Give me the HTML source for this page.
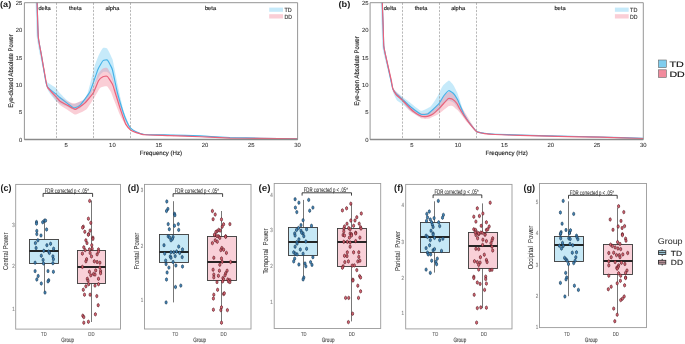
<!DOCTYPE html>
<html><head><meta charset="utf-8"><style>
html,body{margin:0;padding:0;background:#fff;width:685px;height:344px;overflow:hidden}
svg{will-change:transform}
text{font-family:"Liberation Sans", sans-serif;text-rendering:geometricPrecision}
</style></head><body>
<svg width="685" height="344" viewBox="0 0 685 344" style="display:block;font-family:'Liberation Sans', sans-serif">
<rect width="685" height="344" fill="#fff"/>
<g>
<clipPath id="ca"><rect x="24.4" y="2.7" width="273.20000000000005" height="136.8"/></clipPath>
<g clip-path="url(#ca)">
<path d="M35.40,0.00 C35.41,0.20 35.50,-0.01 35.60,2.70 C35.70,5.41 36.48,33.16 36.80,37.00 C37.12,40.84 39.30,51.99 39.90,55.00 C40.50,58.01 44.48,76.02 45.00,78.00 C45.52,79.98 46.19,81.27 47.00,82.00 C47.81,82.73 55.05,87.17 56.00,88.00 C56.95,88.83 59.22,92.42 60.00,93.30 C60.78,94.18 65.86,99.26 66.70,100.00 C67.54,100.74 70.86,103.11 71.40,103.40 C71.94,103.69 73.11,104.23 74.00,104.00 C74.89,103.77 82.57,101.18 83.60,100.30 C84.63,99.42 87.19,94.49 88.00,92.00 C88.81,89.51 93.83,68.95 94.60,66.30 C95.37,63.65 97.89,57.13 98.50,55.80 C99.11,54.47 102.25,48.61 102.90,48.10 C103.55,47.59 106.60,47.98 107.30,48.80 C108.00,49.62 111.99,57.89 112.50,59.30 C113.01,60.71 113.93,66.19 114.30,68.00 C114.67,69.81 117.05,81.80 117.50,84.00 C117.95,86.20 120.02,95.95 120.50,98.00 C120.98,100.05 123.26,109.84 124.00,112.00 C124.74,114.16 129.72,126.09 130.60,127.50 C131.48,128.91 134.97,130.72 136.00,131.20 C137.03,131.68 142.11,133.80 144.60,134.05 C147.09,134.30 165.94,134.54 170.00,134.65 C174.06,134.76 195.60,135.35 200.00,135.55 C204.40,135.75 222.85,137.13 230.00,137.35 C237.15,137.57 292.55,138.51 297.50,138.60 L297.50,139.00 C292.55,138.92 237.15,138.05 230.00,137.85 C222.85,137.65 204.40,136.43 200.00,136.25 C195.60,136.07 174.06,135.55 170.00,135.45 C165.94,135.35 147.09,135.09 144.60,134.85 C142.11,134.61 137.03,132.63 136.00,132.20 C134.97,131.77 131.41,129.97 130.60,129.00 C129.79,128.03 125.92,121.13 125.00,119.00 C124.08,116.87 118.81,102.49 118.00,100.00 C117.19,97.51 114.56,86.83 114.00,85.00 C113.44,83.17 110.79,75.95 110.30,75.00 C109.81,74.05 107.84,72.22 107.30,72.00 C106.76,71.78 103.54,71.78 103.00,72.00 C102.46,72.22 100.59,74.05 100.00,75.00 C99.41,75.95 95.75,83.39 95.00,85.00 C94.25,86.61 90.90,95.28 89.80,97.00 C88.70,98.72 81.16,107.55 80.00,108.50 C78.84,109.45 74.90,110.11 74.00,110.00 C73.10,109.89 68.73,107.48 67.70,107.00 C66.67,106.52 60.86,103.94 60.00,103.50 C59.14,103.06 56.66,101.62 56.00,101.00 C55.34,100.38 51.62,95.84 51.00,95.00 C50.38,94.16 47.97,90.60 47.60,89.50 C47.23,88.40 46.33,82.53 45.90,80.00 C45.47,77.47 42.24,58.15 41.70,55.00 C41.16,51.85 38.92,40.84 38.60,37.00 C38.28,33.16 37.50,5.41 37.40,2.70 C37.30,-0.01 37.21,0.20 37.20,0.00 Z" fill="#70caf2" fill-opacity="0.4"/>
<path d="M36.70,0.00 C36.71,0.20 36.80,-0.01 36.90,2.70 C37.00,5.41 37.79,33.16 38.10,37.00 C38.41,40.84 40.56,51.85 41.10,55.00 C41.64,58.15 45.03,77.73 45.50,80.00 C45.97,82.27 46.73,84.97 47.50,86.00 C48.27,87.03 54.52,92.86 56.00,94.00 C57.48,95.14 66.31,100.81 67.70,101.50 C69.09,102.19 73.77,103.58 75.00,103.40 C76.23,103.22 83.16,100.20 84.50,99.00 C85.84,97.80 92.31,88.83 93.30,87.00 C94.29,85.17 97.30,75.36 98.00,74.00 C98.70,72.64 102.22,68.94 102.90,68.50 C103.58,68.06 106.63,67.45 107.30,68.00 C107.97,68.55 111.44,74.68 112.00,76.00 C112.56,77.32 114.41,84.02 115.00,86.00 C115.59,87.98 119.30,100.73 120.00,103.00 C120.70,105.27 123.72,115.06 124.50,117.00 C125.28,118.94 129.73,128.39 130.60,129.50 C131.47,130.61 135.27,131.74 136.30,132.10 C137.33,132.46 142.13,134.12 144.60,134.35 C147.07,134.58 165.94,135.10 170.00,135.25 C174.06,135.40 195.60,136.26 200.00,136.45 C204.40,136.64 222.85,137.69 230.00,137.85 C237.15,138.01 292.55,138.64 297.50,138.70 L297.50,139.00 C292.55,138.95 237.15,138.49 230.00,138.35 C222.85,138.21 204.40,137.23 200.00,137.05 C195.60,136.87 174.06,136.09 170.00,135.95 C165.94,135.81 147.07,135.36 144.60,135.15 C142.13,134.94 137.33,133.43 136.30,133.10 C135.27,132.77 131.50,131.38 130.60,130.60 C129.70,129.82 124.78,123.64 124.00,122.50 C123.22,121.36 120.73,116.65 120.00,115.00 C119.27,113.35 114.66,101.69 114.00,100.00 C113.34,98.31 111.49,92.99 111.00,92.00 C110.51,91.01 107.83,86.90 107.30,86.50 C106.77,86.10 104.34,86.39 103.80,86.50 C103.26,86.61 100.65,87.27 100.00,88.00 C99.35,88.73 96.00,94.82 95.00,96.40 C94.00,97.98 87.74,108.17 86.30,109.50 C84.86,110.83 76.66,114.56 75.30,114.60 C73.94,114.64 68.82,110.70 67.70,110.00 C66.58,109.30 60.86,105.83 60.00,105.10 C59.14,104.37 56.89,101.18 56.00,100.00 C55.11,98.82 48.52,90.47 47.80,89.00 C47.08,87.53 46.64,82.49 46.20,80.00 C45.76,77.51 42.36,58.15 41.80,55.00 C41.24,51.85 38.92,40.84 38.60,37.00 C38.28,33.16 37.50,5.41 37.40,2.70 C37.30,-0.01 37.21,0.20 37.20,0.00 Z" fill="#f28598" fill-opacity="0.4"/>
<path d="M36.90,0.00 C36.91,0.20 37.00,-0.01 37.10,2.70 C37.20,5.41 37.98,33.16 38.30,37.00 C38.62,40.84 40.87,51.85 41.40,55.00 C41.93,58.15 45.05,77.65 45.50,80.00 C45.95,82.35 46.71,85.94 47.50,87.00 C48.29,88.06 55.38,93.62 56.30,94.40 C57.22,95.18 59.16,97.03 60.00,97.70 C60.84,98.37 66.78,102.90 67.70,103.60 C68.62,104.30 71.97,106.99 72.50,107.30 C73.03,107.61 74.34,107.96 74.90,107.80 C75.46,107.64 79.01,106.26 80.10,105.10 C81.19,103.94 88.51,94.57 89.80,92.00 C91.09,89.43 96.93,71.98 97.70,70.00 C98.47,68.02 99.90,65.69 100.30,65.00 C100.70,64.31 102.59,60.97 103.10,60.60 C103.61,60.23 106.77,59.68 107.30,60.00 C107.83,60.32 109.92,64.27 110.30,65.00 C110.68,65.73 111.97,67.95 112.50,70.00 C113.03,72.05 116.72,89.92 117.50,93.00 C118.28,96.08 122.44,109.95 123.10,112.00 C123.76,114.05 125.95,119.81 126.50,121.00 C127.05,122.19 129.90,127.42 130.60,128.20 C131.30,128.98 134.97,131.24 136.00,131.70 C137.03,132.16 142.11,134.20 144.60,134.45 C147.09,134.70 165.94,134.95 170.00,135.05 C174.06,135.15 195.60,135.67 200.00,135.85 C204.40,136.03 225.60,137.38 230.00,137.55 C234.40,137.72 255.05,138.11 260.00,138.20 C264.95,138.29 294.75,138.76 297.50,138.80" fill="none" stroke="#45b2e8" stroke-width="1.15" stroke-linejoin="round"/>
<path d="M36.90,0.00 C36.91,0.20 37.00,-0.01 37.10,2.70 C37.20,5.41 37.98,33.16 38.30,37.00 C38.62,40.84 40.85,51.85 41.40,55.00 C41.95,58.15 45.35,77.62 45.80,80.00 C46.25,82.38 46.73,86.15 47.50,87.40 C48.27,88.65 55.38,96.09 56.30,97.10 C57.22,98.11 59.16,100.59 60.00,101.20 C60.84,101.81 66.58,104.81 67.70,105.40 C68.82,105.99 74.07,109.45 75.30,109.30 C76.53,109.15 83.18,104.60 84.50,103.40 C85.82,102.20 92.27,94.56 93.30,92.90 C94.33,91.24 97.80,81.98 98.50,80.80 C99.20,79.62 102.25,77.12 102.90,76.80 C103.55,76.48 106.60,75.85 107.30,76.40 C108.00,76.95 111.94,83.16 112.50,84.30 C113.06,85.44 114.45,90.26 115.00,92.00 C115.55,93.74 119.33,105.95 120.00,108.00 C120.67,110.05 123.67,118.80 124.10,120.00 C124.53,121.20 125.32,123.57 125.80,124.30 C126.28,125.03 129.83,129.39 130.60,130.00 C131.37,130.61 135.27,132.25 136.30,132.60 C137.33,132.95 142.13,134.53 144.60,134.75 C147.07,134.97 165.94,135.40 170.00,135.55 C174.06,135.70 195.60,136.57 200.00,136.75 C204.40,136.93 225.60,137.93 230.00,138.05 C234.40,138.17 255.05,138.34 260.00,138.40 C264.95,138.46 294.75,138.86 297.50,138.90" fill="none" stroke="#e9627b" stroke-width="1.2" stroke-linejoin="round"/>
</g>
<line x1="56.5" y1="2.7" x2="56.5" y2="139.5" stroke="#999" stroke-width="0.7" stroke-dasharray="2.2,1.4"/>
<line x1="93.5" y1="2.7" x2="93.5" y2="139.5" stroke="#999" stroke-width="0.7" stroke-dasharray="2.2,1.4"/>
<line x1="130.5" y1="2.7" x2="130.5" y2="139.5" stroke="#999" stroke-width="0.7" stroke-dasharray="2.2,1.4"/>
<path d="M24.4,139.5 L24.4,2.7 L297.6,2.7 L297.6,139.5 Z" fill="none" stroke="#8a8a8a" stroke-width="0.9"/>
<line x1="24.4" y1="139.5" x2="297.6" y2="139.5" stroke="#8a8a8a" stroke-width="1.3"/>
<text transform="translate(44.60 9.90) scale(0.1)" font-size="57.0" text-anchor="middle" fill="#1a1a1a" stroke="#1a1a1a" stroke-width="1.50">delta</text>
<text transform="translate(75.30 9.90) scale(0.1)" font-size="57.0" text-anchor="middle" fill="#1a1a1a" stroke="#1a1a1a" stroke-width="1.50">theta</text>
<text transform="translate(112.40 9.90) scale(0.1)" font-size="57.0" text-anchor="middle" fill="#1a1a1a" stroke="#1a1a1a" stroke-width="1.50">alpha</text>
<text transform="translate(210.50 9.90) scale(0.1)" font-size="57.0" text-anchor="middle" fill="#1a1a1a" stroke="#1a1a1a" stroke-width="1.50">beta</text>
<text transform="translate(22.20 141.70) scale(0.1)" font-size="59.0" text-anchor="end" fill="#333" stroke="#333" stroke-width="0.80">0</text>
<text transform="translate(22.20 114.30) scale(0.1)" font-size="59.0" text-anchor="end" fill="#333" stroke="#333" stroke-width="0.80">5</text>
<text transform="translate(22.20 87.00) scale(0.1)" font-size="59.0" text-anchor="end" fill="#333" stroke="#333" stroke-width="0.80">10</text>
<text transform="translate(22.20 59.60) scale(0.1)" font-size="59.0" text-anchor="end" fill="#333" stroke="#333" stroke-width="0.80">15</text>
<text transform="translate(22.20 32.30) scale(0.1)" font-size="59.0" text-anchor="end" fill="#333" stroke="#333" stroke-width="0.80">20</text>
<text transform="translate(22.20 4.90) scale(0.1)" font-size="59.0" text-anchor="end" fill="#333" stroke="#333" stroke-width="0.80">25</text>
<text transform="translate(66.10 147.30) scale(0.1)" font-size="59.0" text-anchor="middle" fill="#333" stroke="#333" stroke-width="0.80">5</text>
<text transform="translate(112.40 147.30) scale(0.1)" font-size="59.0" text-anchor="middle" fill="#333" stroke="#333" stroke-width="0.80">10</text>
<text transform="translate(158.70 147.30) scale(0.1)" font-size="59.0" text-anchor="middle" fill="#333" stroke="#333" stroke-width="0.80">15</text>
<text transform="translate(205.00 147.30) scale(0.1)" font-size="59.0" text-anchor="middle" fill="#333" stroke="#333" stroke-width="0.80">20</text>
<text transform="translate(251.30 147.30) scale(0.1)" font-size="59.0" text-anchor="middle" fill="#333" stroke="#333" stroke-width="0.80">25</text>
<text transform="translate(297.60 147.30) scale(0.1)" font-size="59.0" text-anchor="middle" fill="#333" stroke="#333" stroke-width="0.80">30</text>
<text transform="translate(161.00 154.60) scale(0.1)" font-size="62.0" text-anchor="middle" fill="#262626" stroke="#262626" stroke-width="1.50" textLength="423.0" lengthAdjust="spacingAndGlyphs">Frequency (Hz)</text>
<text transform="translate(12.80 71.10) rotate(-90) scale(0.1)" font-size="66.0" text-anchor="middle" fill="#222" stroke="#222" stroke-width="1.50" textLength="735.0" lengthAdjust="spacingAndGlyphs">Eye-closed Absolute Power</text>
<rect x="269.2" y="7.6" width="13.8" height="4.2" fill="#70caf2" fill-opacity="0.4"/>
<rect x="269.2" y="14.2" width="13.8" height="4.3" fill="#f28598" fill-opacity="0.4"/>
<text transform="translate(284.40 12.00) scale(0.1)" font-size="60.0" text-anchor="start" fill="#333" stroke="#333" stroke-width="1.50" textLength="73.0" lengthAdjust="spacingAndGlyphs">TD</text>
<text transform="translate(284.40 18.50) scale(0.1)" font-size="60.0" text-anchor="start" fill="#333" stroke="#333" stroke-width="1.50" textLength="75.0" lengthAdjust="spacingAndGlyphs">DD</text>
<text transform="translate(0.00 7.20) scale(0.1)" font-size="83.0" text-anchor="start" fill="#222" font-weight="bold" textLength="112.0" lengthAdjust="spacingAndGlyphs">(a)</text>
<clipPath id="cb"><rect x="370.09999999999997" y="2.7" width="273.2" height="136.8"/></clipPath>
<g clip-path="url(#cb)">
<path d="M380.60,0.00 C380.61,0.20 380.73,0.87 380.80,2.70 C380.87,4.53 381.49,21.82 381.60,25.00 C381.71,28.18 382.12,43.80 382.30,46.00 C382.48,48.20 383.41,52.51 384.00,55.00 C384.59,57.49 389.68,77.62 390.30,80.00 C390.92,82.38 391.98,86.66 392.40,87.50 C392.82,88.34 395.30,90.84 396.00,91.50 C396.70,92.16 400.97,95.69 402.00,96.50 C403.03,97.31 408.61,101.45 410.00,102.50 C411.39,103.55 419.49,110.51 421.00,110.80 C422.51,111.09 429.55,107.19 430.60,106.40 C431.65,105.61 434.76,100.80 435.30,100.00 C435.84,99.20 437.45,96.54 438.00,95.50 C438.55,94.46 442.00,86.90 442.80,85.80 C443.60,84.70 448.13,80.57 448.90,80.50 C449.67,80.43 452.71,84.06 453.30,84.90 C453.89,85.74 456.52,90.89 457.00,92.00 C457.48,93.11 459.36,98.68 459.80,100.00 C460.24,101.32 462.40,108.53 463.00,110.00 C463.60,111.47 467.00,118.50 468.00,120.00 C469.00,121.50 475.39,129.55 476.60,130.50 C477.81,131.45 483.15,132.65 484.50,132.90 C485.85,133.15 492.40,133.76 495.00,133.90 C497.60,134.04 515.38,134.66 520.00,134.80 C524.62,134.94 552.13,135.65 558.00,135.80 C563.87,135.95 593.73,136.63 600.00,136.80 C606.27,136.97 640.31,138.00 643.50,138.10 L643.50,138.60 C640.31,138.50 606.27,137.46 600.00,137.30 C593.73,137.14 563.87,136.53 558.00,136.40 C552.13,136.27 524.62,135.63 520.00,135.50 C515.38,135.37 497.60,134.72 495.00,134.60 C492.40,134.48 485.85,133.99 484.50,133.80 C483.15,133.61 478.10,133.23 476.60,132.00 C475.10,130.77 465.36,118.72 464.00,117.00 C462.64,115.28 458.73,109.53 458.00,108.50 C457.27,107.47 454.67,103.59 454.00,103.00 C453.33,102.41 449.63,100.46 448.90,100.50 C448.17,100.54 444.70,102.80 444.00,103.50 C443.30,104.20 440.28,109.16 439.40,110.00 C438.52,110.84 432.91,114.49 432.00,115.00 C431.09,115.51 427.88,116.85 427.00,117.00 C426.12,117.15 421.25,117.48 420.00,117.00 C418.75,116.52 411.29,111.45 410.00,110.50 C408.71,109.55 403.35,104.73 402.40,104.00 C401.45,103.27 397.69,101.38 397.00,100.50 C396.31,99.62 393.42,93.36 393.00,92.00 C392.58,90.64 391.83,84.71 391.30,82.00 C390.77,79.29 386.33,57.64 385.80,55.00 C385.27,52.36 384.28,48.20 384.10,46.00 C383.92,43.80 383.51,28.18 383.40,25.00 C383.29,21.82 382.67,4.53 382.60,2.70 C382.53,0.87 382.41,0.20 382.40,0.00 Z" fill="#70caf2" fill-opacity="0.4"/>
<path d="M381.90,0.00 C381.91,0.20 382.03,0.87 382.10,2.70 C382.17,4.53 382.79,21.82 382.90,25.00 C383.01,28.18 383.43,43.80 383.60,46.00 C383.77,48.20 384.66,52.51 385.20,55.00 C385.74,57.49 390.36,77.62 390.90,80.00 C391.44,82.38 392.13,86.66 392.50,87.50 C392.87,88.34 395.30,90.77 396.00,91.50 C396.70,92.23 400.97,96.44 402.00,97.50 C403.03,98.56 408.68,104.86 410.00,106.00 C411.32,107.14 418.75,112.49 420.00,113.00 C421.25,113.51 426.12,113.18 427.00,113.00 C427.88,112.82 431.05,111.31 432.00,110.50 C432.95,109.69 439.05,103.17 440.00,102.00 C440.95,100.83 444.35,95.23 445.00,94.50 C445.65,93.77 448.31,92.11 448.90,92.00 C449.49,91.89 452.41,92.49 453.00,93.00 C453.59,93.51 456.41,98.05 457.00,99.00 C457.59,99.95 459.56,103.67 461.00,106.00 C462.44,108.33 474.88,128.81 476.60,130.80 C478.32,132.79 483.15,132.95 484.50,133.20 C485.85,133.45 492.40,134.06 495.00,134.20 C497.60,134.34 515.38,134.96 520.00,135.10 C524.62,135.24 552.13,135.96 558.00,136.10 C563.87,136.24 593.73,136.84 600.00,137.00 C606.27,137.16 640.31,138.20 643.50,138.30 L643.50,138.70 C640.31,138.61 606.27,137.65 600.00,137.50 C593.73,137.35 563.87,136.83 558.00,136.70 C552.13,136.57 524.62,135.84 520.00,135.70 C515.38,135.56 497.60,134.92 495.00,134.80 C492.40,134.68 485.85,134.19 484.50,134.00 C483.15,133.81 477.85,133.02 476.60,132.20 C475.35,131.38 468.81,124.33 467.50,122.80 C466.19,121.27 459.90,112.63 458.80,111.40 C457.70,110.17 453.28,106.37 452.50,106.00 C451.72,105.63 449.16,105.86 448.20,106.40 C447.24,106.94 440.82,112.51 439.40,113.40 C437.98,114.29 430.18,118.22 428.90,118.60 C427.62,118.98 423.29,119.16 421.90,118.60 C420.51,118.04 411.43,112.25 410.00,111.00 C408.57,109.75 403.35,102.64 402.40,101.50 C401.45,100.36 397.67,96.34 397.00,95.50 C396.33,94.66 393.60,91.14 393.20,90.00 C392.80,88.86 392.14,82.57 391.60,80.00 C391.06,77.43 386.35,57.49 385.80,55.00 C385.25,52.51 384.28,48.20 384.10,46.00 C383.92,43.80 383.51,28.18 383.40,25.00 C383.29,21.82 382.67,4.53 382.60,2.70 C382.53,0.87 382.41,0.20 382.40,0.00 Z" fill="#f28598" fill-opacity="0.4"/>
<path d="M382.10,0.00 C382.11,0.20 382.23,0.87 382.30,2.70 C382.37,4.53 382.99,21.82 383.10,25.00 C383.21,28.18 383.62,43.80 383.80,46.00 C383.98,48.20 384.99,52.51 385.50,55.00 C386.01,57.49 390.26,77.52 390.80,80.00 C391.34,82.48 392.42,87.80 392.80,88.80 C393.18,89.80 395.30,92.83 396.00,93.60 C396.70,94.37 401.34,98.33 402.40,99.30 C403.46,100.27 409.14,105.70 410.50,106.80 C411.86,107.90 419.75,113.77 421.00,114.30 C422.25,114.83 426.62,114.35 427.50,114.00 C428.38,113.65 432.13,110.31 433.00,109.50 C433.87,108.69 438.59,104.03 439.40,103.00 C440.21,101.97 443.32,96.40 444.00,95.50 C444.68,94.60 448.00,90.85 448.70,90.70 C449.40,90.55 452.85,92.85 453.50,93.50 C454.15,94.15 456.99,98.55 457.50,99.50 C458.01,100.45 459.99,105.33 460.50,106.50 C461.01,107.67 463.82,114.17 464.50,115.40 C465.18,116.63 468.91,122.13 469.80,123.30 C470.69,124.47 475.52,130.67 476.60,131.40 C477.68,132.13 483.15,133.09 484.50,133.30 C485.85,133.51 492.40,134.07 495.00,134.20 C497.60,134.33 515.38,134.96 520.00,135.10 C524.62,135.24 552.13,135.96 558.00,136.10 C563.87,136.24 593.73,136.84 600.00,137.00 C606.27,137.16 640.31,138.20 643.50,138.30" fill="none" stroke="#45b2e8" stroke-width="1.15" stroke-linejoin="round"/>
<path d="M382.10,0.00 C382.11,0.20 382.23,0.87 382.30,2.70 C382.37,4.53 382.99,21.82 383.10,25.00 C383.21,28.18 383.62,43.80 383.80,46.00 C383.98,48.20 384.96,52.51 385.50,55.00 C386.04,57.49 390.66,77.54 391.20,80.00 C391.74,82.46 392.45,87.44 392.80,88.50 C393.15,89.56 395.30,93.63 396.00,94.50 C396.70,95.37 401.34,99.25 402.40,100.30 C403.46,101.35 409.63,107.94 410.50,108.80 C411.37,109.66 413.39,111.45 414.20,112.00 C415.01,112.55 420.52,115.98 421.50,116.30 C422.48,116.62 426.66,116.47 427.50,116.30 C428.34,116.13 432.13,114.59 433.00,114.00 C433.87,113.41 438.59,109.01 439.40,108.20 C440.21,107.39 443.33,103.71 444.00,103.00 C444.67,102.29 447.88,98.78 448.50,98.50 C449.12,98.22 451.88,98.83 452.50,99.20 C453.12,99.57 456.38,102.82 456.90,103.50 C457.42,104.18 459.09,107.63 459.60,108.50 C460.11,109.37 463.07,114.31 463.80,115.40 C464.53,116.49 468.56,122.11 469.50,123.30 C470.44,124.49 475.50,130.84 476.60,131.60 C477.70,132.36 483.15,133.39 484.50,133.60 C485.85,133.81 492.40,134.37 495.00,134.50 C497.60,134.63 515.38,135.26 520.00,135.40 C524.62,135.54 552.13,136.27 558.00,136.40 C563.87,136.53 593.73,137.05 600.00,137.20 C606.27,137.35 640.31,138.40 643.50,138.50" fill="none" stroke="#e9627b" stroke-width="1.2" stroke-linejoin="round"/>
</g>
<line x1="402.5" y1="2.7" x2="402.5" y2="139.5" stroke="#999" stroke-width="0.7" stroke-dasharray="2.2,1.4"/>
<line x1="439.5" y1="2.7" x2="439.5" y2="139.5" stroke="#999" stroke-width="0.7" stroke-dasharray="2.2,1.4"/>
<line x1="476.5" y1="2.7" x2="476.5" y2="139.5" stroke="#999" stroke-width="0.7" stroke-dasharray="2.2,1.4"/>
<path d="M370.09999999999997,139.5 L370.09999999999997,2.7 L643.3,2.7 L643.3,139.5 Z" fill="none" stroke="#8a8a8a" stroke-width="0.9"/>
<line x1="370.09999999999997" y1="139.5" x2="643.3" y2="139.5" stroke="#8a8a8a" stroke-width="1.3"/>
<text transform="translate(390.00 9.90) scale(0.1)" font-size="57.0" text-anchor="middle" fill="#1a1a1a" stroke="#1a1a1a" stroke-width="1.50">delta</text>
<text transform="translate(421.00 9.90) scale(0.1)" font-size="57.0" text-anchor="middle" fill="#1a1a1a" stroke="#1a1a1a" stroke-width="1.50">theta</text>
<text transform="translate(458.10 9.90) scale(0.1)" font-size="57.0" text-anchor="middle" fill="#1a1a1a" stroke="#1a1a1a" stroke-width="1.50">alpha</text>
<text transform="translate(560.00 9.90) scale(0.1)" font-size="57.0" text-anchor="middle" fill="#1a1a1a" stroke="#1a1a1a" stroke-width="1.50">beta</text>
<text transform="translate(368.50 141.70) scale(0.1)" font-size="59.0" text-anchor="end" fill="#333" stroke="#333" stroke-width="0.80">0</text>
<text transform="translate(368.50 114.30) scale(0.1)" font-size="59.0" text-anchor="end" fill="#333" stroke="#333" stroke-width="0.80">5</text>
<text transform="translate(368.50 87.00) scale(0.1)" font-size="59.0" text-anchor="end" fill="#333" stroke="#333" stroke-width="0.80">10</text>
<text transform="translate(368.50 59.60) scale(0.1)" font-size="59.0" text-anchor="end" fill="#333" stroke="#333" stroke-width="0.80">15</text>
<text transform="translate(368.50 32.30) scale(0.1)" font-size="59.0" text-anchor="end" fill="#333" stroke="#333" stroke-width="0.80">20</text>
<text transform="translate(368.50 4.90) scale(0.1)" font-size="59.0" text-anchor="end" fill="#333" stroke="#333" stroke-width="0.80">25</text>
<text transform="translate(411.80 147.30) scale(0.1)" font-size="59.0" text-anchor="middle" fill="#333" stroke="#333" stroke-width="0.80">5</text>
<text transform="translate(458.10 147.30) scale(0.1)" font-size="59.0" text-anchor="middle" fill="#333" stroke="#333" stroke-width="0.80">10</text>
<text transform="translate(504.40 147.30) scale(0.1)" font-size="59.0" text-anchor="middle" fill="#333" stroke="#333" stroke-width="0.80">15</text>
<text transform="translate(550.70 147.30) scale(0.1)" font-size="59.0" text-anchor="middle" fill="#333" stroke="#333" stroke-width="0.80">20</text>
<text transform="translate(597.00 147.30) scale(0.1)" font-size="59.0" text-anchor="middle" fill="#333" stroke="#333" stroke-width="0.80">25</text>
<text transform="translate(643.30 147.30) scale(0.1)" font-size="59.0" text-anchor="middle" fill="#333" stroke="#333" stroke-width="0.80">30</text>
<text transform="translate(506.70 154.60) scale(0.1)" font-size="62.0" text-anchor="middle" fill="#262626" stroke="#262626" stroke-width="1.50" textLength="423.0" lengthAdjust="spacingAndGlyphs">Frequency (Hz)</text>
<text transform="translate(359.20 71.10) rotate(-90) scale(0.1)" font-size="66.0" text-anchor="middle" fill="#222" stroke="#222" stroke-width="1.50" textLength="695.0" lengthAdjust="spacingAndGlyphs">Eye-open Absolute Power</text>
<rect x="614.9" y="7.6" width="13.8" height="4.2" fill="#70caf2" fill-opacity="0.4"/>
<rect x="614.9" y="14.2" width="13.8" height="4.3" fill="#f28598" fill-opacity="0.4"/>
<text transform="translate(630.10 12.00) scale(0.1)" font-size="60.0" text-anchor="start" fill="#333" stroke="#333" stroke-width="1.50" textLength="73.0" lengthAdjust="spacingAndGlyphs">TD</text>
<text transform="translate(630.10 18.50) scale(0.1)" font-size="60.0" text-anchor="start" fill="#333" stroke="#333" stroke-width="1.50" textLength="75.0" lengthAdjust="spacingAndGlyphs">DD</text>
<text transform="translate(338.40 7.20) scale(0.1)" font-size="83.0" text-anchor="start" fill="#222" font-weight="bold" textLength="119.0" lengthAdjust="spacingAndGlyphs">(b)</text>
<rect x="15.7" y="184.4" width="104.8" height="144.70000000000002" fill="none" stroke="#9a9a9a" stroke-width="0.9"/>
<line x1="44.5" y1="220.1" x2="44.5" y2="291.9" stroke="#5f5f5f" stroke-width="0.85"/>
<rect x="29.5" y="239.5" width="29.0" height="24.0" fill="#c6e8f6" stroke="#3a3a3a" stroke-width="0.9"/>
<line x1="29.5" y1="251" x2="58.5" y2="251" stroke="#111" stroke-width="1.8"/>
<line x1="91.5" y1="200.5" x2="91.5" y2="322.0" stroke="#5f5f5f" stroke-width="0.85"/>
<rect x="77.5" y="250.5" width="28.0" height="33.0" fill="#f9d0d8" stroke="#3a3a3a" stroke-width="0.9"/>
<line x1="77.5" y1="267" x2="105.5" y2="267" stroke="#111" stroke-width="1.8"/>
<ellipse cx="36.5" cy="222.0" rx="1.08" ry="1.7" fill="#4589bd" stroke="#12304a" stroke-width="0.6"/>
<ellipse cx="36.5" cy="223.6" rx="1.08" ry="1.7" fill="#4589bd" stroke="#12304a" stroke-width="0.6"/>
<ellipse cx="42.7" cy="222.2" rx="1.08" ry="1.7" fill="#4589bd" stroke="#12304a" stroke-width="0.6"/>
<ellipse cx="44.5" cy="220.6" rx="1.08" ry="1.7" fill="#4589bd" stroke="#12304a" stroke-width="0.6"/>
<ellipse cx="45.6" cy="220.6" rx="1.08" ry="1.7" fill="#4589bd" stroke="#12304a" stroke-width="0.6"/>
<ellipse cx="46.6" cy="229.5" rx="1.08" ry="1.7" fill="#4589bd" stroke="#12304a" stroke-width="0.6"/>
<ellipse cx="36.8" cy="230.9" rx="1.08" ry="1.7" fill="#4589bd" stroke="#12304a" stroke-width="0.6"/>
<ellipse cx="36.8" cy="234.1" rx="1.08" ry="1.7" fill="#4589bd" stroke="#12304a" stroke-width="0.6"/>
<ellipse cx="41.0" cy="235.5" rx="1.08" ry="1.7" fill="#4589bd" stroke="#12304a" stroke-width="0.6"/>
<ellipse cx="37.9" cy="240.3" rx="1.08" ry="1.7" fill="#4589bd" stroke="#12304a" stroke-width="0.6"/>
<ellipse cx="35.4" cy="243.1" rx="1.08" ry="1.7" fill="#4589bd" stroke="#12304a" stroke-width="0.6"/>
<ellipse cx="50.6" cy="243.8" rx="1.08" ry="1.7" fill="#4589bd" stroke="#12304a" stroke-width="0.6"/>
<ellipse cx="46.9" cy="245.2" rx="1.08" ry="1.7" fill="#4589bd" stroke="#12304a" stroke-width="0.6"/>
<ellipse cx="36.1" cy="248.0" rx="1.08" ry="1.7" fill="#4589bd" stroke="#12304a" stroke-width="0.6"/>
<ellipse cx="53.6" cy="248.7" rx="1.08" ry="1.7" fill="#4589bd" stroke="#12304a" stroke-width="0.6"/>
<ellipse cx="43.8" cy="250.8" rx="1.08" ry="1.7" fill="#4589bd" stroke="#12304a" stroke-width="0.6"/>
<ellipse cx="48.7" cy="251.5" rx="1.08" ry="1.7" fill="#4589bd" stroke="#12304a" stroke-width="0.6"/>
<ellipse cx="49.4" cy="252.9" rx="1.08" ry="1.7" fill="#4589bd" stroke="#12304a" stroke-width="0.6"/>
<ellipse cx="41.3" cy="255.7" rx="1.08" ry="1.7" fill="#4589bd" stroke="#12304a" stroke-width="0.6"/>
<ellipse cx="52.9" cy="256.4" rx="1.08" ry="1.7" fill="#4589bd" stroke="#12304a" stroke-width="0.6"/>
<ellipse cx="53.4" cy="259.2" rx="1.08" ry="1.7" fill="#4589bd" stroke="#12304a" stroke-width="0.6"/>
<ellipse cx="43.1" cy="259.9" rx="1.08" ry="1.7" fill="#4589bd" stroke="#12304a" stroke-width="0.6"/>
<ellipse cx="35.1" cy="262.7" rx="1.08" ry="1.7" fill="#4589bd" stroke="#12304a" stroke-width="0.6"/>
<ellipse cx="43.5" cy="263.4" rx="1.08" ry="1.7" fill="#4589bd" stroke="#12304a" stroke-width="0.6"/>
<ellipse cx="52.9" cy="263.2" rx="1.08" ry="1.7" fill="#4589bd" stroke="#12304a" stroke-width="0.6"/>
<ellipse cx="35.1" cy="271.1" rx="1.08" ry="1.7" fill="#4589bd" stroke="#12304a" stroke-width="0.6"/>
<ellipse cx="48.0" cy="271.1" rx="1.08" ry="1.7" fill="#4589bd" stroke="#12304a" stroke-width="0.6"/>
<ellipse cx="53.4" cy="271.8" rx="1.08" ry="1.7" fill="#4589bd" stroke="#12304a" stroke-width="0.6"/>
<ellipse cx="38.2" cy="276.0" rx="1.08" ry="1.7" fill="#4589bd" stroke="#12304a" stroke-width="0.6"/>
<ellipse cx="36.8" cy="279.5" rx="1.08" ry="1.7" fill="#4589bd" stroke="#12304a" stroke-width="0.6"/>
<ellipse cx="48.7" cy="280.2" rx="1.08" ry="1.7" fill="#4589bd" stroke="#12304a" stroke-width="0.6"/>
<ellipse cx="41.3" cy="283.5" rx="1.08" ry="1.7" fill="#4589bd" stroke="#12304a" stroke-width="0.6"/>
<ellipse cx="48.0" cy="281.4" rx="1.08" ry="1.7" fill="#4589bd" stroke="#12304a" stroke-width="0.6"/>
<ellipse cx="45.0" cy="292.6" rx="1.08" ry="1.7" fill="#4589bd" stroke="#12304a" stroke-width="0.6"/>
<ellipse cx="89.7" cy="200.9" rx="1.08" ry="1.7" fill="#dc6675" stroke="#4e141b" stroke-width="0.6"/>
<ellipse cx="88.4" cy="218.7" rx="1.08" ry="1.7" fill="#dc6675" stroke="#4e141b" stroke-width="0.6"/>
<ellipse cx="90.8" cy="222.9" rx="1.08" ry="1.7" fill="#dc6675" stroke="#4e141b" stroke-width="0.6"/>
<ellipse cx="83.3" cy="226.7" rx="1.08" ry="1.7" fill="#dc6675" stroke="#4e141b" stroke-width="0.6"/>
<ellipse cx="82.6" cy="227.6" rx="1.08" ry="1.7" fill="#dc6675" stroke="#4e141b" stroke-width="0.6"/>
<ellipse cx="84.8" cy="231.8" rx="1.08" ry="1.7" fill="#dc6675" stroke="#4e141b" stroke-width="0.6"/>
<ellipse cx="90.1" cy="230.6" rx="1.08" ry="1.7" fill="#dc6675" stroke="#4e141b" stroke-width="0.6"/>
<ellipse cx="88.7" cy="234.1" rx="1.08" ry="1.7" fill="#dc6675" stroke="#4e141b" stroke-width="0.6"/>
<ellipse cx="92.9" cy="237.7" rx="1.08" ry="1.7" fill="#dc6675" stroke="#4e141b" stroke-width="0.6"/>
<ellipse cx="88.3" cy="234.7" rx="1.08" ry="1.7" fill="#dc6675" stroke="#4e141b" stroke-width="0.6"/>
<ellipse cx="92.9" cy="238.9" rx="1.08" ry="1.7" fill="#dc6675" stroke="#4e141b" stroke-width="0.6"/>
<ellipse cx="85.9" cy="240.3" rx="1.08" ry="1.7" fill="#dc6675" stroke="#4e141b" stroke-width="0.6"/>
<ellipse cx="87.0" cy="243.1" rx="1.08" ry="1.7" fill="#dc6675" stroke="#4e141b" stroke-width="0.6"/>
<ellipse cx="91.8" cy="245.2" rx="1.08" ry="1.7" fill="#dc6675" stroke="#4e141b" stroke-width="0.6"/>
<ellipse cx="83.8" cy="247.3" rx="1.08" ry="1.7" fill="#dc6675" stroke="#4e141b" stroke-width="0.6"/>
<ellipse cx="85.2" cy="250.1" rx="1.08" ry="1.7" fill="#dc6675" stroke="#4e141b" stroke-width="0.6"/>
<ellipse cx="89.4" cy="249.4" rx="1.08" ry="1.7" fill="#dc6675" stroke="#4e141b" stroke-width="0.6"/>
<ellipse cx="92.2" cy="248.7" rx="1.08" ry="1.7" fill="#dc6675" stroke="#4e141b" stroke-width="0.6"/>
<ellipse cx="98.5" cy="249.4" rx="1.08" ry="1.7" fill="#dc6675" stroke="#4e141b" stroke-width="0.6"/>
<ellipse cx="82.4" cy="253.6" rx="1.08" ry="1.7" fill="#dc6675" stroke="#4e141b" stroke-width="0.6"/>
<ellipse cx="90.1" cy="252.9" rx="1.08" ry="1.7" fill="#dc6675" stroke="#4e141b" stroke-width="0.6"/>
<ellipse cx="97.1" cy="254.3" rx="1.08" ry="1.7" fill="#dc6675" stroke="#4e141b" stroke-width="0.6"/>
<ellipse cx="98.5" cy="251.5" rx="1.08" ry="1.7" fill="#dc6675" stroke="#4e141b" stroke-width="0.6"/>
<ellipse cx="91.5" cy="256.4" rx="1.08" ry="1.7" fill="#dc6675" stroke="#4e141b" stroke-width="0.6"/>
<ellipse cx="86.6" cy="259.2" rx="1.08" ry="1.7" fill="#dc6675" stroke="#4e141b" stroke-width="0.6"/>
<ellipse cx="85.9" cy="261.3" rx="1.08" ry="1.7" fill="#dc6675" stroke="#4e141b" stroke-width="0.6"/>
<ellipse cx="94.3" cy="261.3" rx="1.08" ry="1.7" fill="#dc6675" stroke="#4e141b" stroke-width="0.6"/>
<ellipse cx="97.1" cy="262.0" rx="1.08" ry="1.7" fill="#dc6675" stroke="#4e141b" stroke-width="0.6"/>
<ellipse cx="99.9" cy="262.7" rx="1.08" ry="1.7" fill="#dc6675" stroke="#4e141b" stroke-width="0.6"/>
<ellipse cx="82.4" cy="266.9" rx="1.08" ry="1.7" fill="#dc6675" stroke="#4e141b" stroke-width="0.6"/>
<ellipse cx="99.9" cy="267.6" rx="1.08" ry="1.7" fill="#dc6675" stroke="#4e141b" stroke-width="0.6"/>
<ellipse cx="95.7" cy="270.4" rx="1.08" ry="1.7" fill="#dc6675" stroke="#4e141b" stroke-width="0.6"/>
<ellipse cx="100.6" cy="271.1" rx="1.08" ry="1.7" fill="#dc6675" stroke="#4e141b" stroke-width="0.6"/>
<ellipse cx="89.4" cy="271.8" rx="1.08" ry="1.7" fill="#dc6675" stroke="#4e141b" stroke-width="0.6"/>
<ellipse cx="93.6" cy="274.0" rx="1.08" ry="1.7" fill="#dc6675" stroke="#4e141b" stroke-width="0.6"/>
<ellipse cx="95.0" cy="274.6" rx="1.08" ry="1.7" fill="#dc6675" stroke="#4e141b" stroke-width="0.6"/>
<ellipse cx="90.8" cy="275.3" rx="1.08" ry="1.7" fill="#dc6675" stroke="#4e141b" stroke-width="0.6"/>
<ellipse cx="100.6" cy="273.2" rx="1.08" ry="1.7" fill="#dc6675" stroke="#4e141b" stroke-width="0.6"/>
<ellipse cx="87.3" cy="278.8" rx="1.08" ry="1.7" fill="#dc6675" stroke="#4e141b" stroke-width="0.6"/>
<ellipse cx="98.5" cy="278.8" rx="1.08" ry="1.7" fill="#dc6675" stroke="#4e141b" stroke-width="0.6"/>
<ellipse cx="88.0" cy="280.7" rx="1.08" ry="1.7" fill="#dc6675" stroke="#4e141b" stroke-width="0.6"/>
<ellipse cx="95.0" cy="285.6" rx="1.08" ry="1.7" fill="#dc6675" stroke="#4e141b" stroke-width="0.6"/>
<ellipse cx="88.7" cy="284.2" rx="1.08" ry="1.7" fill="#dc6675" stroke="#4e141b" stroke-width="0.6"/>
<ellipse cx="98.5" cy="284.2" rx="1.08" ry="1.7" fill="#dc6675" stroke="#4e141b" stroke-width="0.6"/>
<ellipse cx="85.9" cy="286.3" rx="1.08" ry="1.7" fill="#dc6675" stroke="#4e141b" stroke-width="0.6"/>
<ellipse cx="83.3" cy="289.8" rx="1.08" ry="1.7" fill="#dc6675" stroke="#4e141b" stroke-width="0.6"/>
<ellipse cx="84.5" cy="294.7" rx="1.08" ry="1.7" fill="#dc6675" stroke="#4e141b" stroke-width="0.6"/>
<ellipse cx="90.1" cy="294.7" rx="1.08" ry="1.7" fill="#dc6675" stroke="#4e141b" stroke-width="0.6"/>
<ellipse cx="96.8" cy="296.1" rx="1.08" ry="1.7" fill="#dc6675" stroke="#4e141b" stroke-width="0.6"/>
<ellipse cx="98.2" cy="305.2" rx="1.08" ry="1.7" fill="#dc6675" stroke="#4e141b" stroke-width="0.6"/>
<ellipse cx="82.8" cy="315.7" rx="1.08" ry="1.7" fill="#dc6675" stroke="#4e141b" stroke-width="0.6"/>
<ellipse cx="83.8" cy="317.1" rx="1.08" ry="1.7" fill="#dc6675" stroke="#4e141b" stroke-width="0.6"/>
<ellipse cx="95.4" cy="314.3" rx="1.08" ry="1.7" fill="#dc6675" stroke="#4e141b" stroke-width="0.6"/>
<ellipse cx="83.8" cy="322.7" rx="1.08" ry="1.7" fill="#dc6675" stroke="#4e141b" stroke-width="0.6"/>
<ellipse cx="88.4" cy="321.8" rx="1.08" ry="1.7" fill="#dc6675" stroke="#4e141b" stroke-width="0.6"/>
<path d="M43.1,196.9 L43.1,193.4 L92.6,193.4 L92.6,196.9" fill="none" stroke="#111" stroke-width="0.8"/>
<text transform="translate(66.80 192.80) scale(0.1)" font-size="66.0" text-anchor="middle" fill="#2a2a2a" stroke="#2a2a2a" stroke-width="0.60" textLength="442.0" lengthAdjust="spacingAndGlyphs">FDR corrected p &lt; .05*</text>
<text transform="translate(43.90 335.70) scale(0.1)" font-size="58.0" text-anchor="middle" fill="#6a6a6a" stroke="#6a6a6a" stroke-width="1.50" textLength="56.0" lengthAdjust="spacingAndGlyphs">TD</text>
<text transform="translate(91.40 335.70) scale(0.1)" font-size="58.0" text-anchor="middle" fill="#6a6a6a" stroke="#6a6a6a" stroke-width="1.50" textLength="62.0" lengthAdjust="spacingAndGlyphs">DD</text>
<text transform="translate(67.70 341.90) scale(0.1)" font-size="63.0" text-anchor="middle" fill="#505050" stroke="#505050" stroke-width="1.50" textLength="128.0" lengthAdjust="spacingAndGlyphs">Group</text>
<text transform="translate(8.00 251.30) rotate(-90) scale(0.1)" font-size="72.0" text-anchor="middle" fill="#333" stroke="#333" stroke-width="0.53" textLength="373.0" lengthAdjust="spacingAndGlyphs">Central Power</text>
<text transform="translate(0.50 190.90) scale(0.1)" font-size="94.0" text-anchor="start" fill="#222" font-weight="bold" textLength="109.0" lengthAdjust="spacingAndGlyphs">(c)</text>
<text transform="translate(13.40 226.70) scale(0.1)" font-size="60.0" text-anchor="middle" fill="#8a8a8a" stroke="#8a8a8a" stroke-width="1.50" textLength="25.0" lengthAdjust="spacingAndGlyphs">3</text>
<text transform="translate(13.40 268.40) scale(0.1)" font-size="60.0" text-anchor="middle" fill="#8a8a8a" stroke="#8a8a8a" stroke-width="1.50" textLength="25.0" lengthAdjust="spacingAndGlyphs">2</text>
<text transform="translate(13.40 310.80) scale(0.1)" font-size="60.0" text-anchor="middle" fill="#8a8a8a" stroke="#8a8a8a" stroke-width="1.50" textLength="25.0" lengthAdjust="spacingAndGlyphs">1</text>
<rect x="144.5" y="184.4" width="106.5" height="144.6" fill="none" stroke="#9a9a9a" stroke-width="0.9"/>
<line x1="173.5" y1="201.2" x2="173.5" y2="302.4" stroke="#5f5f5f" stroke-width="0.85"/>
<rect x="159.5" y="234.5" width="29.0" height="28.0" fill="#c6e8f6" stroke="#3a3a3a" stroke-width="0.9"/>
<line x1="159.5" y1="252" x2="188.5" y2="252" stroke="#111" stroke-width="1.8"/>
<line x1="221.5" y1="211.0" x2="221.5" y2="323.0" stroke="#5f5f5f" stroke-width="0.85"/>
<rect x="207.5" y="236.5" width="29.0" height="44.0" fill="#f9d0d8" stroke="#3a3a3a" stroke-width="0.9"/>
<line x1="207.5" y1="262" x2="236.5" y2="262" stroke="#111" stroke-width="1.8"/>
<ellipse cx="166.8" cy="201.5" rx="1.08" ry="1.7" fill="#4589bd" stroke="#12304a" stroke-width="0.6"/>
<ellipse cx="167.9" cy="208.9" rx="1.08" ry="1.7" fill="#4589bd" stroke="#12304a" stroke-width="0.6"/>
<ellipse cx="166.5" cy="211.0" rx="1.08" ry="1.7" fill="#4589bd" stroke="#12304a" stroke-width="0.6"/>
<ellipse cx="174.5" cy="213.8" rx="1.08" ry="1.7" fill="#4589bd" stroke="#12304a" stroke-width="0.6"/>
<ellipse cx="174.9" cy="215.2" rx="1.08" ry="1.7" fill="#4589bd" stroke="#12304a" stroke-width="0.6"/>
<ellipse cx="168.2" cy="224.1" rx="1.08" ry="1.7" fill="#4589bd" stroke="#12304a" stroke-width="0.6"/>
<ellipse cx="174.5" cy="225.7" rx="1.08" ry="1.7" fill="#4589bd" stroke="#12304a" stroke-width="0.6"/>
<ellipse cx="178.3" cy="224.1" rx="1.08" ry="1.7" fill="#4589bd" stroke="#12304a" stroke-width="0.6"/>
<ellipse cx="169.3" cy="229.2" rx="1.08" ry="1.7" fill="#4589bd" stroke="#12304a" stroke-width="0.6"/>
<ellipse cx="178.7" cy="229.9" rx="1.08" ry="1.7" fill="#4589bd" stroke="#12304a" stroke-width="0.6"/>
<ellipse cx="168.2" cy="236.3" rx="1.08" ry="1.7" fill="#4589bd" stroke="#12304a" stroke-width="0.6"/>
<ellipse cx="173.1" cy="237.0" rx="1.08" ry="1.7" fill="#4589bd" stroke="#12304a" stroke-width="0.6"/>
<ellipse cx="169.6" cy="237.5" rx="1.08" ry="1.7" fill="#4589bd" stroke="#12304a" stroke-width="0.6"/>
<ellipse cx="172.4" cy="238.9" rx="1.08" ry="1.7" fill="#4589bd" stroke="#12304a" stroke-width="0.6"/>
<ellipse cx="171.0" cy="240.3" rx="1.08" ry="1.7" fill="#4589bd" stroke="#12304a" stroke-width="0.6"/>
<ellipse cx="164.0" cy="245.2" rx="1.08" ry="1.7" fill="#4589bd" stroke="#12304a" stroke-width="0.6"/>
<ellipse cx="178.7" cy="246.6" rx="1.08" ry="1.7" fill="#4589bd" stroke="#12304a" stroke-width="0.6"/>
<ellipse cx="182.5" cy="249.4" rx="1.08" ry="1.7" fill="#4589bd" stroke="#12304a" stroke-width="0.6"/>
<ellipse cx="164.7" cy="253.6" rx="1.08" ry="1.7" fill="#4589bd" stroke="#12304a" stroke-width="0.6"/>
<ellipse cx="171.0" cy="252.2" rx="1.08" ry="1.7" fill="#4589bd" stroke="#12304a" stroke-width="0.6"/>
<ellipse cx="173.8" cy="252.2" rx="1.08" ry="1.7" fill="#4589bd" stroke="#12304a" stroke-width="0.6"/>
<ellipse cx="176.6" cy="251.5" rx="1.08" ry="1.7" fill="#4589bd" stroke="#12304a" stroke-width="0.6"/>
<ellipse cx="179.7" cy="252.9" rx="1.08" ry="1.7" fill="#4589bd" stroke="#12304a" stroke-width="0.6"/>
<ellipse cx="170.3" cy="256.4" rx="1.08" ry="1.7" fill="#4589bd" stroke="#12304a" stroke-width="0.6"/>
<ellipse cx="171.0" cy="257.8" rx="1.08" ry="1.7" fill="#4589bd" stroke="#12304a" stroke-width="0.6"/>
<ellipse cx="175.2" cy="256.1" rx="1.08" ry="1.7" fill="#4589bd" stroke="#12304a" stroke-width="0.6"/>
<ellipse cx="182.2" cy="257.1" rx="1.08" ry="1.7" fill="#4589bd" stroke="#12304a" stroke-width="0.6"/>
<ellipse cx="165.7" cy="260.6" rx="1.08" ry="1.7" fill="#4589bd" stroke="#12304a" stroke-width="0.6"/>
<ellipse cx="173.1" cy="262.0" rx="1.08" ry="1.7" fill="#4589bd" stroke="#12304a" stroke-width="0.6"/>
<ellipse cx="166.1" cy="264.1" rx="1.08" ry="1.7" fill="#4589bd" stroke="#12304a" stroke-width="0.6"/>
<ellipse cx="175.9" cy="265.5" rx="1.08" ry="1.7" fill="#4589bd" stroke="#12304a" stroke-width="0.6"/>
<ellipse cx="168.9" cy="267.6" rx="1.08" ry="1.7" fill="#4589bd" stroke="#12304a" stroke-width="0.6"/>
<ellipse cx="182.5" cy="266.5" rx="1.08" ry="1.7" fill="#4589bd" stroke="#12304a" stroke-width="0.6"/>
<ellipse cx="167.1" cy="272.5" rx="1.08" ry="1.7" fill="#4589bd" stroke="#12304a" stroke-width="0.6"/>
<ellipse cx="166.5" cy="279.5" rx="1.08" ry="1.7" fill="#4589bd" stroke="#12304a" stroke-width="0.6"/>
<ellipse cx="175.5" cy="287.0" rx="1.08" ry="1.7" fill="#4589bd" stroke="#12304a" stroke-width="0.6"/>
<ellipse cx="180.8" cy="285.6" rx="1.08" ry="1.7" fill="#4589bd" stroke="#12304a" stroke-width="0.6"/>
<ellipse cx="166.1" cy="302.4" rx="1.08" ry="1.7" fill="#4589bd" stroke="#12304a" stroke-width="0.6"/>
<ellipse cx="212.4" cy="211.0" rx="1.08" ry="1.7" fill="#dc6675" stroke="#4e141b" stroke-width="0.6"/>
<ellipse cx="215.2" cy="214.5" rx="1.08" ry="1.7" fill="#dc6675" stroke="#4e141b" stroke-width="0.6"/>
<ellipse cx="213.1" cy="219.2" rx="1.08" ry="1.7" fill="#dc6675" stroke="#4e141b" stroke-width="0.6"/>
<ellipse cx="221.5" cy="219.4" rx="1.08" ry="1.7" fill="#dc6675" stroke="#4e141b" stroke-width="0.6"/>
<ellipse cx="223.6" cy="224.3" rx="1.08" ry="1.7" fill="#dc6675" stroke="#4e141b" stroke-width="0.6"/>
<ellipse cx="229.9" cy="224.1" rx="1.08" ry="1.7" fill="#dc6675" stroke="#4e141b" stroke-width="0.6"/>
<ellipse cx="222.2" cy="226.7" rx="1.08" ry="1.7" fill="#dc6675" stroke="#4e141b" stroke-width="0.6"/>
<ellipse cx="218.7" cy="229.9" rx="1.08" ry="1.7" fill="#dc6675" stroke="#4e141b" stroke-width="0.6"/>
<ellipse cx="217.0" cy="231.3" rx="1.08" ry="1.7" fill="#dc6675" stroke="#4e141b" stroke-width="0.6"/>
<ellipse cx="215.9" cy="232.0" rx="1.08" ry="1.7" fill="#dc6675" stroke="#4e141b" stroke-width="0.6"/>
<ellipse cx="220.1" cy="230.6" rx="1.08" ry="1.7" fill="#dc6675" stroke="#4e141b" stroke-width="0.6"/>
<ellipse cx="214.8" cy="235.1" rx="1.08" ry="1.7" fill="#dc6675" stroke="#4e141b" stroke-width="0.6"/>
<ellipse cx="218.7" cy="236.3" rx="1.08" ry="1.7" fill="#dc6675" stroke="#4e141b" stroke-width="0.6"/>
<ellipse cx="225.7" cy="236.3" rx="1.08" ry="1.7" fill="#dc6675" stroke="#4e141b" stroke-width="0.6"/>
<ellipse cx="214.5" cy="234.7" rx="1.08" ry="1.7" fill="#dc6675" stroke="#4e141b" stroke-width="0.6"/>
<ellipse cx="217.0" cy="236.1" rx="1.08" ry="1.7" fill="#dc6675" stroke="#4e141b" stroke-width="0.6"/>
<ellipse cx="219.8" cy="237.9" rx="1.08" ry="1.7" fill="#dc6675" stroke="#4e141b" stroke-width="0.6"/>
<ellipse cx="225.7" cy="236.8" rx="1.08" ry="1.7" fill="#dc6675" stroke="#4e141b" stroke-width="0.6"/>
<ellipse cx="215.2" cy="240.3" rx="1.08" ry="1.7" fill="#dc6675" stroke="#4e141b" stroke-width="0.6"/>
<ellipse cx="217.3" cy="241.7" rx="1.08" ry="1.7" fill="#dc6675" stroke="#4e141b" stroke-width="0.6"/>
<ellipse cx="212.4" cy="243.1" rx="1.08" ry="1.7" fill="#dc6675" stroke="#4e141b" stroke-width="0.6"/>
<ellipse cx="221.8" cy="248.0" rx="1.08" ry="1.7" fill="#dc6675" stroke="#4e141b" stroke-width="0.6"/>
<ellipse cx="220.8" cy="250.1" rx="1.08" ry="1.7" fill="#dc6675" stroke="#4e141b" stroke-width="0.6"/>
<ellipse cx="223.6" cy="249.7" rx="1.08" ry="1.7" fill="#dc6675" stroke="#4e141b" stroke-width="0.6"/>
<ellipse cx="226.4" cy="252.9" rx="1.08" ry="1.7" fill="#dc6675" stroke="#4e141b" stroke-width="0.6"/>
<ellipse cx="213.8" cy="257.8" rx="1.08" ry="1.7" fill="#dc6675" stroke="#4e141b" stroke-width="0.6"/>
<ellipse cx="221.5" cy="258.5" rx="1.08" ry="1.7" fill="#dc6675" stroke="#4e141b" stroke-width="0.6"/>
<ellipse cx="222.2" cy="261.8" rx="1.08" ry="1.7" fill="#dc6675" stroke="#4e141b" stroke-width="0.6"/>
<ellipse cx="230.6" cy="262.0" rx="1.08" ry="1.7" fill="#dc6675" stroke="#4e141b" stroke-width="0.6"/>
<ellipse cx="219.8" cy="264.8" rx="1.08" ry="1.7" fill="#dc6675" stroke="#4e141b" stroke-width="0.6"/>
<ellipse cx="213.1" cy="269.7" rx="1.08" ry="1.7" fill="#dc6675" stroke="#4e141b" stroke-width="0.6"/>
<ellipse cx="219.4" cy="270.7" rx="1.08" ry="1.7" fill="#dc6675" stroke="#4e141b" stroke-width="0.6"/>
<ellipse cx="227.1" cy="270.7" rx="1.08" ry="1.7" fill="#dc6675" stroke="#4e141b" stroke-width="0.6"/>
<ellipse cx="225.7" cy="273.2" rx="1.08" ry="1.7" fill="#dc6675" stroke="#4e141b" stroke-width="0.6"/>
<ellipse cx="213.8" cy="274.6" rx="1.08" ry="1.7" fill="#dc6675" stroke="#4e141b" stroke-width="0.6"/>
<ellipse cx="218.4" cy="275.8" rx="1.08" ry="1.7" fill="#dc6675" stroke="#4e141b" stroke-width="0.6"/>
<ellipse cx="225.0" cy="275.3" rx="1.08" ry="1.7" fill="#dc6675" stroke="#4e141b" stroke-width="0.6"/>
<ellipse cx="213.8" cy="277.4" rx="1.08" ry="1.7" fill="#dc6675" stroke="#4e141b" stroke-width="0.6"/>
<ellipse cx="222.9" cy="278.1" rx="1.08" ry="1.7" fill="#dc6675" stroke="#4e141b" stroke-width="0.6"/>
<ellipse cx="223.6" cy="279.5" rx="1.08" ry="1.7" fill="#dc6675" stroke="#4e141b" stroke-width="0.6"/>
<ellipse cx="227.8" cy="279.5" rx="1.08" ry="1.7" fill="#dc6675" stroke="#4e141b" stroke-width="0.6"/>
<ellipse cx="229.9" cy="280.2" rx="1.08" ry="1.7" fill="#dc6675" stroke="#4e141b" stroke-width="0.6"/>
<ellipse cx="217.0" cy="282.1" rx="1.08" ry="1.7" fill="#dc6675" stroke="#4e141b" stroke-width="0.6"/>
<ellipse cx="222.6" cy="281.4" rx="1.08" ry="1.7" fill="#dc6675" stroke="#4e141b" stroke-width="0.6"/>
<ellipse cx="228.5" cy="281.4" rx="1.08" ry="1.7" fill="#dc6675" stroke="#4e141b" stroke-width="0.6"/>
<ellipse cx="229.9" cy="282.1" rx="1.08" ry="1.7" fill="#dc6675" stroke="#4e141b" stroke-width="0.6"/>
<ellipse cx="217.6" cy="289.8" rx="1.08" ry="1.7" fill="#dc6675" stroke="#4e141b" stroke-width="0.6"/>
<ellipse cx="213.8" cy="294.7" rx="1.08" ry="1.7" fill="#dc6675" stroke="#4e141b" stroke-width="0.6"/>
<ellipse cx="213.4" cy="298.5" rx="1.08" ry="1.7" fill="#dc6675" stroke="#4e141b" stroke-width="0.6"/>
<ellipse cx="223.6" cy="294.0" rx="1.08" ry="1.7" fill="#dc6675" stroke="#4e141b" stroke-width="0.6"/>
<ellipse cx="224.3" cy="293.3" rx="1.08" ry="1.7" fill="#dc6675" stroke="#4e141b" stroke-width="0.6"/>
<ellipse cx="221.5" cy="307.3" rx="1.08" ry="1.7" fill="#dc6675" stroke="#4e141b" stroke-width="0.6"/>
<ellipse cx="213.4" cy="309.7" rx="1.08" ry="1.7" fill="#dc6675" stroke="#4e141b" stroke-width="0.6"/>
<ellipse cx="220.8" cy="310.1" rx="1.08" ry="1.7" fill="#dc6675" stroke="#4e141b" stroke-width="0.6"/>
<ellipse cx="227.4" cy="310.1" rx="1.08" ry="1.7" fill="#dc6675" stroke="#4e141b" stroke-width="0.6"/>
<ellipse cx="221.5" cy="322.7" rx="1.08" ry="1.7" fill="#dc6675" stroke="#4e141b" stroke-width="0.6"/>
<path d="M173.1,196.9 L173.1,193.7 L222.6,193.7 L222.6,196.9" fill="none" stroke="#111" stroke-width="0.8"/>
<text transform="translate(196.80 193.10) scale(0.1)" font-size="66.0" text-anchor="middle" fill="#2a2a2a" stroke="#2a2a2a" stroke-width="0.60" textLength="442.0" lengthAdjust="spacingAndGlyphs">FDR corrected p &lt; .05*</text>
<text transform="translate(175.40 335.70) scale(0.1)" font-size="58.0" text-anchor="middle" fill="#6a6a6a" stroke="#6a6a6a" stroke-width="1.50" textLength="56.0" lengthAdjust="spacingAndGlyphs">TD</text>
<text transform="translate(223.70 335.70) scale(0.1)" font-size="58.0" text-anchor="middle" fill="#6a6a6a" stroke="#6a6a6a" stroke-width="1.50" textLength="62.0" lengthAdjust="spacingAndGlyphs">DD</text>
<text transform="translate(199.70 341.90) scale(0.1)" font-size="63.0" text-anchor="middle" fill="#505050" stroke="#505050" stroke-width="1.50" textLength="128.0" lengthAdjust="spacingAndGlyphs">Group</text>
<text transform="translate(138.70 251.10) rotate(-90) scale(0.1)" font-size="72.0" text-anchor="middle" fill="#333" stroke="#333" stroke-width="0.53" textLength="368.0" lengthAdjust="spacingAndGlyphs">Frontal Power</text>
<text transform="translate(127.80 190.90) scale(0.1)" font-size="94.0" text-anchor="start" fill="#222" font-weight="bold" textLength="114.0" lengthAdjust="spacingAndGlyphs">(d)</text>
<text transform="translate(142.00 192.40) scale(0.1)" font-size="60.0" text-anchor="middle" fill="#8a8a8a" stroke="#8a8a8a" stroke-width="1.50" textLength="25.0" lengthAdjust="spacingAndGlyphs">3</text>
<text transform="translate(142.00 247.80) scale(0.1)" font-size="60.0" text-anchor="middle" fill="#8a8a8a" stroke="#8a8a8a" stroke-width="1.50" textLength="25.0" lengthAdjust="spacingAndGlyphs">2</text>
<text transform="translate(142.00 302.30) scale(0.1)" font-size="60.0" text-anchor="middle" fill="#8a8a8a" stroke="#8a8a8a" stroke-width="1.50" textLength="25.0" lengthAdjust="spacingAndGlyphs">1</text>
<rect x="274.2" y="183.5" width="106.5" height="145.0" fill="none" stroke="#9a9a9a" stroke-width="0.9"/>
<line x1="303.5" y1="199.9" x2="303.5" y2="278.0" stroke="#5f5f5f" stroke-width="0.85"/>
<rect x="288.5" y="227.5" width="29.0" height="28.0" fill="#c6e8f6" stroke="#3a3a3a" stroke-width="0.9"/>
<line x1="288.5" y1="242" x2="317.5" y2="242" stroke="#111" stroke-width="1.8"/>
<line x1="351.5" y1="203.4" x2="351.5" y2="321.4" stroke="#5f5f5f" stroke-width="0.85"/>
<rect x="337.5" y="228.5" width="29.0" height="38.0" fill="#f9d0d8" stroke="#3a3a3a" stroke-width="0.9"/>
<line x1="337.5" y1="242" x2="366.5" y2="242" stroke="#111" stroke-width="1.8"/>
<ellipse cx="295.1" cy="199.2" rx="1.08" ry="1.7" fill="#4589bd" stroke="#12304a" stroke-width="0.6"/>
<ellipse cx="298.9" cy="202.7" rx="1.08" ry="1.7" fill="#4589bd" stroke="#12304a" stroke-width="0.6"/>
<ellipse cx="308.7" cy="199.9" rx="1.08" ry="1.7" fill="#4589bd" stroke="#12304a" stroke-width="0.6"/>
<ellipse cx="295.4" cy="207.6" rx="1.08" ry="1.7" fill="#4589bd" stroke="#12304a" stroke-width="0.6"/>
<ellipse cx="296.8" cy="212.1" rx="1.08" ry="1.7" fill="#4589bd" stroke="#12304a" stroke-width="0.6"/>
<ellipse cx="309.7" cy="210.7" rx="1.08" ry="1.7" fill="#4589bd" stroke="#12304a" stroke-width="0.6"/>
<ellipse cx="312.9" cy="207.6" rx="1.08" ry="1.7" fill="#4589bd" stroke="#12304a" stroke-width="0.6"/>
<ellipse cx="303.1" cy="220.2" rx="1.08" ry="1.7" fill="#4589bd" stroke="#12304a" stroke-width="0.6"/>
<ellipse cx="301.0" cy="225.1" rx="1.08" ry="1.7" fill="#4589bd" stroke="#12304a" stroke-width="0.6"/>
<ellipse cx="311.5" cy="225.8" rx="1.08" ry="1.7" fill="#4589bd" stroke="#12304a" stroke-width="0.6"/>
<ellipse cx="298.5" cy="228.0" rx="1.08" ry="1.7" fill="#4589bd" stroke="#12304a" stroke-width="0.6"/>
<ellipse cx="296.5" cy="230.0" rx="1.08" ry="1.7" fill="#4589bd" stroke="#12304a" stroke-width="0.6"/>
<ellipse cx="306.6" cy="229.3" rx="1.08" ry="1.7" fill="#4589bd" stroke="#12304a" stroke-width="0.6"/>
<ellipse cx="301.0" cy="230.7" rx="1.08" ry="1.7" fill="#4589bd" stroke="#12304a" stroke-width="0.6"/>
<ellipse cx="294.7" cy="233.5" rx="1.08" ry="1.7" fill="#4589bd" stroke="#12304a" stroke-width="0.6"/>
<ellipse cx="303.1" cy="233.5" rx="1.08" ry="1.7" fill="#4589bd" stroke="#12304a" stroke-width="0.6"/>
<ellipse cx="295.1" cy="235.5" rx="1.08" ry="1.7" fill="#4589bd" stroke="#12304a" stroke-width="0.6"/>
<ellipse cx="301.7" cy="232.7" rx="1.08" ry="1.7" fill="#4589bd" stroke="#12304a" stroke-width="0.6"/>
<ellipse cx="303.8" cy="236.2" rx="1.08" ry="1.7" fill="#4589bd" stroke="#12304a" stroke-width="0.6"/>
<ellipse cx="298.9" cy="239.3" rx="1.08" ry="1.7" fill="#4589bd" stroke="#12304a" stroke-width="0.6"/>
<ellipse cx="296.8" cy="242.1" rx="1.08" ry="1.7" fill="#4589bd" stroke="#12304a" stroke-width="0.6"/>
<ellipse cx="297.1" cy="243.5" rx="1.08" ry="1.7" fill="#4589bd" stroke="#12304a" stroke-width="0.6"/>
<ellipse cx="305.9" cy="241.5" rx="1.08" ry="1.7" fill="#4589bd" stroke="#12304a" stroke-width="0.6"/>
<ellipse cx="295.1" cy="246.7" rx="1.08" ry="1.7" fill="#4589bd" stroke="#12304a" stroke-width="0.6"/>
<ellipse cx="300.3" cy="249.5" rx="1.08" ry="1.7" fill="#4589bd" stroke="#12304a" stroke-width="0.6"/>
<ellipse cx="306.6" cy="248.8" rx="1.08" ry="1.7" fill="#4589bd" stroke="#12304a" stroke-width="0.6"/>
<ellipse cx="293.7" cy="252.3" rx="1.08" ry="1.7" fill="#4589bd" stroke="#12304a" stroke-width="0.6"/>
<ellipse cx="295.4" cy="253.7" rx="1.08" ry="1.7" fill="#4589bd" stroke="#12304a" stroke-width="0.6"/>
<ellipse cx="297.1" cy="254.4" rx="1.08" ry="1.7" fill="#4589bd" stroke="#12304a" stroke-width="0.6"/>
<ellipse cx="303.1" cy="253.7" rx="1.08" ry="1.7" fill="#4589bd" stroke="#12304a" stroke-width="0.6"/>
<ellipse cx="312.9" cy="257.2" rx="1.08" ry="1.7" fill="#4589bd" stroke="#12304a" stroke-width="0.6"/>
<ellipse cx="294.7" cy="258.6" rx="1.08" ry="1.7" fill="#4589bd" stroke="#12304a" stroke-width="0.6"/>
<ellipse cx="293.7" cy="261.4" rx="1.08" ry="1.7" fill="#4589bd" stroke="#12304a" stroke-width="0.6"/>
<ellipse cx="310.6" cy="262.1" rx="1.08" ry="1.7" fill="#4589bd" stroke="#12304a" stroke-width="0.6"/>
<ellipse cx="305.0" cy="263.5" rx="1.08" ry="1.7" fill="#4589bd" stroke="#12304a" stroke-width="0.6"/>
<ellipse cx="312.0" cy="264.9" rx="1.08" ry="1.7" fill="#4589bd" stroke="#12304a" stroke-width="0.6"/>
<ellipse cx="298.9" cy="264.5" rx="1.08" ry="1.7" fill="#4589bd" stroke="#12304a" stroke-width="0.6"/>
<ellipse cx="305.9" cy="266.3" rx="1.08" ry="1.7" fill="#4589bd" stroke="#12304a" stroke-width="0.6"/>
<ellipse cx="303.8" cy="277.5" rx="1.08" ry="1.7" fill="#4589bd" stroke="#12304a" stroke-width="0.6"/>
<ellipse cx="303.1" cy="279.4" rx="1.08" ry="1.7" fill="#4589bd" stroke="#12304a" stroke-width="0.6"/>
<ellipse cx="350.8" cy="203.7" rx="1.08" ry="1.7" fill="#dc6675" stroke="#4e141b" stroke-width="0.6"/>
<ellipse cx="342.4" cy="210.4" rx="1.08" ry="1.7" fill="#dc6675" stroke="#4e141b" stroke-width="0.6"/>
<ellipse cx="346.6" cy="208.3" rx="1.08" ry="1.7" fill="#dc6675" stroke="#4e141b" stroke-width="0.6"/>
<ellipse cx="361.3" cy="213.5" rx="1.08" ry="1.7" fill="#dc6675" stroke="#4e141b" stroke-width="0.6"/>
<ellipse cx="356.8" cy="217.2" rx="1.08" ry="1.7" fill="#dc6675" stroke="#4e141b" stroke-width="0.6"/>
<ellipse cx="350.8" cy="220.5" rx="1.08" ry="1.7" fill="#dc6675" stroke="#4e141b" stroke-width="0.6"/>
<ellipse cx="355.0" cy="220.5" rx="1.08" ry="1.7" fill="#dc6675" stroke="#4e141b" stroke-width="0.6"/>
<ellipse cx="347.0" cy="223.7" rx="1.08" ry="1.7" fill="#dc6675" stroke="#4e141b" stroke-width="0.6"/>
<ellipse cx="359.2" cy="223.7" rx="1.08" ry="1.7" fill="#dc6675" stroke="#4e141b" stroke-width="0.6"/>
<ellipse cx="344.5" cy="226.5" rx="1.08" ry="1.7" fill="#dc6675" stroke="#4e141b" stroke-width="0.6"/>
<ellipse cx="343.8" cy="228.6" rx="1.08" ry="1.7" fill="#dc6675" stroke="#4e141b" stroke-width="0.6"/>
<ellipse cx="348.7" cy="228.0" rx="1.08" ry="1.7" fill="#dc6675" stroke="#4e141b" stroke-width="0.6"/>
<ellipse cx="353.6" cy="225.8" rx="1.08" ry="1.7" fill="#dc6675" stroke="#4e141b" stroke-width="0.6"/>
<ellipse cx="360.6" cy="227.2" rx="1.08" ry="1.7" fill="#dc6675" stroke="#4e141b" stroke-width="0.6"/>
<ellipse cx="361.0" cy="228.6" rx="1.08" ry="1.7" fill="#dc6675" stroke="#4e141b" stroke-width="0.6"/>
<ellipse cx="350.1" cy="229.3" rx="1.08" ry="1.7" fill="#dc6675" stroke="#4e141b" stroke-width="0.6"/>
<ellipse cx="343.8" cy="231.4" rx="1.08" ry="1.7" fill="#dc6675" stroke="#4e141b" stroke-width="0.6"/>
<ellipse cx="355.7" cy="232.8" rx="1.08" ry="1.7" fill="#dc6675" stroke="#4e141b" stroke-width="0.6"/>
<ellipse cx="350.1" cy="233.5" rx="1.08" ry="1.7" fill="#dc6675" stroke="#4e141b" stroke-width="0.6"/>
<ellipse cx="351.5" cy="234.2" rx="1.08" ry="1.7" fill="#dc6675" stroke="#4e141b" stroke-width="0.6"/>
<ellipse cx="343.1" cy="235.0" rx="1.08" ry="1.7" fill="#dc6675" stroke="#4e141b" stroke-width="0.6"/>
<ellipse cx="344.5" cy="235.5" rx="1.08" ry="1.7" fill="#dc6675" stroke="#4e141b" stroke-width="0.6"/>
<ellipse cx="351.5" cy="235.5" rx="1.08" ry="1.7" fill="#dc6675" stroke="#4e141b" stroke-width="0.6"/>
<ellipse cx="355.7" cy="233.4" rx="1.08" ry="1.7" fill="#dc6675" stroke="#4e141b" stroke-width="0.6"/>
<ellipse cx="349.4" cy="237.6" rx="1.08" ry="1.7" fill="#dc6675" stroke="#4e141b" stroke-width="0.6"/>
<ellipse cx="359.9" cy="237.6" rx="1.08" ry="1.7" fill="#dc6675" stroke="#4e141b" stroke-width="0.6"/>
<ellipse cx="343.8" cy="241.8" rx="1.08" ry="1.7" fill="#dc6675" stroke="#4e141b" stroke-width="0.6"/>
<ellipse cx="347.3" cy="241.8" rx="1.08" ry="1.7" fill="#dc6675" stroke="#4e141b" stroke-width="0.6"/>
<ellipse cx="350.1" cy="242.5" rx="1.08" ry="1.7" fill="#dc6675" stroke="#4e141b" stroke-width="0.6"/>
<ellipse cx="355.7" cy="241.1" rx="1.08" ry="1.7" fill="#dc6675" stroke="#4e141b" stroke-width="0.6"/>
<ellipse cx="350.1" cy="246.7" rx="1.08" ry="1.7" fill="#dc6675" stroke="#4e141b" stroke-width="0.6"/>
<ellipse cx="347.3" cy="252.3" rx="1.08" ry="1.7" fill="#dc6675" stroke="#4e141b" stroke-width="0.6"/>
<ellipse cx="353.6" cy="252.3" rx="1.08" ry="1.7" fill="#dc6675" stroke="#4e141b" stroke-width="0.6"/>
<ellipse cx="358.8" cy="252.3" rx="1.08" ry="1.7" fill="#dc6675" stroke="#4e141b" stroke-width="0.6"/>
<ellipse cx="344.5" cy="255.8" rx="1.08" ry="1.7" fill="#dc6675" stroke="#4e141b" stroke-width="0.6"/>
<ellipse cx="347.0" cy="256.1" rx="1.08" ry="1.7" fill="#dc6675" stroke="#4e141b" stroke-width="0.6"/>
<ellipse cx="358.8" cy="256.9" rx="1.08" ry="1.7" fill="#dc6675" stroke="#4e141b" stroke-width="0.6"/>
<ellipse cx="348.4" cy="261.4" rx="1.08" ry="1.7" fill="#dc6675" stroke="#4e141b" stroke-width="0.6"/>
<ellipse cx="344.8" cy="262.1" rx="1.08" ry="1.7" fill="#dc6675" stroke="#4e141b" stroke-width="0.6"/>
<ellipse cx="357.8" cy="261.4" rx="1.08" ry="1.7" fill="#dc6675" stroke="#4e141b" stroke-width="0.6"/>
<ellipse cx="359.9" cy="260.7" rx="1.08" ry="1.7" fill="#dc6675" stroke="#4e141b" stroke-width="0.6"/>
<ellipse cx="343.1" cy="266.3" rx="1.08" ry="1.7" fill="#dc6675" stroke="#4e141b" stroke-width="0.6"/>
<ellipse cx="342.4" cy="267.7" rx="1.08" ry="1.7" fill="#dc6675" stroke="#4e141b" stroke-width="0.6"/>
<ellipse cx="352.2" cy="265.6" rx="1.08" ry="1.7" fill="#dc6675" stroke="#4e141b" stroke-width="0.6"/>
<ellipse cx="354.3" cy="265.4" rx="1.08" ry="1.7" fill="#dc6675" stroke="#4e141b" stroke-width="0.6"/>
<ellipse cx="356.8" cy="270.1" rx="1.08" ry="1.7" fill="#dc6675" stroke="#4e141b" stroke-width="0.6"/>
<ellipse cx="359.6" cy="276.1" rx="1.08" ry="1.7" fill="#dc6675" stroke="#4e141b" stroke-width="0.6"/>
<ellipse cx="360.6" cy="277.5" rx="1.08" ry="1.7" fill="#dc6675" stroke="#4e141b" stroke-width="0.6"/>
<ellipse cx="352.9" cy="279.7" rx="1.08" ry="1.7" fill="#dc6675" stroke="#4e141b" stroke-width="0.6"/>
<ellipse cx="352.9" cy="280.5" rx="1.08" ry="1.7" fill="#dc6675" stroke="#4e141b" stroke-width="0.6"/>
<ellipse cx="357.8" cy="285.7" rx="1.08" ry="1.7" fill="#dc6675" stroke="#4e141b" stroke-width="0.6"/>
<ellipse cx="360.6" cy="291.3" rx="1.08" ry="1.7" fill="#dc6675" stroke="#4e141b" stroke-width="0.6"/>
<ellipse cx="345.6" cy="297.9" rx="1.08" ry="1.7" fill="#dc6675" stroke="#4e141b" stroke-width="0.6"/>
<ellipse cx="348.7" cy="297.9" rx="1.08" ry="1.7" fill="#dc6675" stroke="#4e141b" stroke-width="0.6"/>
<ellipse cx="358.5" cy="297.9" rx="1.08" ry="1.7" fill="#dc6675" stroke="#4e141b" stroke-width="0.6"/>
<ellipse cx="352.6" cy="313.7" rx="1.08" ry="1.7" fill="#dc6675" stroke="#4e141b" stroke-width="0.6"/>
<ellipse cx="348.4" cy="322.1" rx="1.08" ry="1.7" fill="#dc6675" stroke="#4e141b" stroke-width="0.6"/>
<path d="M302.1,195.6 L302.1,192.79999999999998 L351.5,192.79999999999998 L351.5,195.6" fill="none" stroke="#111" stroke-width="0.8"/>
<text transform="translate(325.80 192.20) scale(0.1)" font-size="66.0" text-anchor="middle" fill="#2a2a2a" stroke="#2a2a2a" stroke-width="0.60" textLength="442.0" lengthAdjust="spacingAndGlyphs">FDR corrected p &lt; .05*</text>
<text transform="translate(303.70 335.70) scale(0.1)" font-size="58.0" text-anchor="middle" fill="#6a6a6a" stroke="#6a6a6a" stroke-width="1.50" textLength="56.0" lengthAdjust="spacingAndGlyphs">TD</text>
<text transform="translate(351.80 335.70) scale(0.1)" font-size="58.0" text-anchor="middle" fill="#6a6a6a" stroke="#6a6a6a" stroke-width="1.50" textLength="62.0" lengthAdjust="spacingAndGlyphs">DD</text>
<text transform="translate(328.10 341.90) scale(0.1)" font-size="63.0" text-anchor="middle" fill="#505050" stroke="#505050" stroke-width="1.50" textLength="128.0" lengthAdjust="spacingAndGlyphs">Group</text>
<text transform="translate(267.70 251.10) rotate(-90) scale(0.1)" font-size="72.0" text-anchor="middle" fill="#333" stroke="#333" stroke-width="0.53" textLength="452.0" lengthAdjust="spacingAndGlyphs">Temporal&#160;&#160;Power</text>
<text transform="translate(258.50 190.90) scale(0.1)" font-size="94.0" text-anchor="start" fill="#222" font-weight="bold" textLength="120.0" lengthAdjust="spacingAndGlyphs">(e)</text>
<text transform="translate(271.40 196.90) scale(0.1)" font-size="60.0" text-anchor="middle" fill="#8a8a8a" stroke="#8a8a8a" stroke-width="1.50" textLength="25.0" lengthAdjust="spacingAndGlyphs">4</text>
<text transform="translate(271.40 232.40) scale(0.1)" font-size="60.0" text-anchor="middle" fill="#8a8a8a" stroke="#8a8a8a" stroke-width="1.50" textLength="25.0" lengthAdjust="spacingAndGlyphs">3</text>
<text transform="translate(271.40 267.90) scale(0.1)" font-size="60.0" text-anchor="middle" fill="#8a8a8a" stroke="#8a8a8a" stroke-width="1.50" textLength="25.0" lengthAdjust="spacingAndGlyphs">2</text>
<text transform="translate(271.40 303.60) scale(0.1)" font-size="60.0" text-anchor="middle" fill="#8a8a8a" stroke="#8a8a8a" stroke-width="1.50" textLength="25.0" lengthAdjust="spacingAndGlyphs">1</text>
<rect x="405.7" y="184.4" width="106.30000000000001" height="144.49999999999997" fill="none" stroke="#9a9a9a" stroke-width="0.9"/>
<line x1="434.5" y1="201.3" x2="434.5" y2="272.6" stroke="#5f5f5f" stroke-width="0.85"/>
<rect x="420.5" y="222.5" width="29.0" height="30.0" fill="#c6e8f6" stroke="#3a3a3a" stroke-width="0.9"/>
<line x1="420.5" y1="237" x2="449.5" y2="237" stroke="#111" stroke-width="1.8"/>
<line x1="482.5" y1="203.4" x2="482.5" y2="308.1" stroke="#5f5f5f" stroke-width="0.85"/>
<rect x="468.5" y="232.5" width="29.0" height="36.0" fill="#f9d0d8" stroke="#3a3a3a" stroke-width="0.9"/>
<line x1="468.5" y1="246" x2="497.5" y2="246" stroke="#111" stroke-width="1.8"/>
<ellipse cx="438.3" cy="200.9" rx="1.08" ry="1.7" fill="#4589bd" stroke="#12304a" stroke-width="0.6"/>
<ellipse cx="429.3" cy="211.5" rx="1.08" ry="1.7" fill="#4589bd" stroke="#12304a" stroke-width="0.6"/>
<ellipse cx="426.8" cy="213.9" rx="1.08" ry="1.7" fill="#4589bd" stroke="#12304a" stroke-width="0.6"/>
<ellipse cx="427.5" cy="217.4" rx="1.08" ry="1.7" fill="#4589bd" stroke="#12304a" stroke-width="0.6"/>
<ellipse cx="443.4" cy="214.9" rx="1.08" ry="1.7" fill="#4589bd" stroke="#12304a" stroke-width="0.6"/>
<ellipse cx="442.5" cy="217.7" rx="1.08" ry="1.7" fill="#4589bd" stroke="#12304a" stroke-width="0.6"/>
<ellipse cx="434.1" cy="218.1" rx="1.08" ry="1.7" fill="#4589bd" stroke="#12304a" stroke-width="0.6"/>
<ellipse cx="430.3" cy="219.5" rx="1.08" ry="1.7" fill="#4589bd" stroke="#12304a" stroke-width="0.6"/>
<ellipse cx="426.5" cy="220.9" rx="1.08" ry="1.7" fill="#4589bd" stroke="#12304a" stroke-width="0.6"/>
<ellipse cx="431.7" cy="222.3" rx="1.08" ry="1.7" fill="#4589bd" stroke="#12304a" stroke-width="0.6"/>
<ellipse cx="438.7" cy="222.3" rx="1.08" ry="1.7" fill="#4589bd" stroke="#12304a" stroke-width="0.6"/>
<ellipse cx="432.4" cy="224.7" rx="1.08" ry="1.7" fill="#4589bd" stroke="#12304a" stroke-width="0.6"/>
<ellipse cx="439.7" cy="226.1" rx="1.08" ry="1.7" fill="#4589bd" stroke="#12304a" stroke-width="0.6"/>
<ellipse cx="433.1" cy="227.0" rx="1.08" ry="1.7" fill="#4589bd" stroke="#12304a" stroke-width="0.6"/>
<ellipse cx="431.0" cy="230.7" rx="1.08" ry="1.7" fill="#4589bd" stroke="#12304a" stroke-width="0.6"/>
<ellipse cx="433.1" cy="233.5" rx="1.08" ry="1.7" fill="#4589bd" stroke="#12304a" stroke-width="0.6"/>
<ellipse cx="426.1" cy="235.7" rx="1.08" ry="1.7" fill="#4589bd" stroke="#12304a" stroke-width="0.6"/>
<ellipse cx="433.1" cy="234.5" rx="1.08" ry="1.7" fill="#4589bd" stroke="#12304a" stroke-width="0.6"/>
<ellipse cx="427.5" cy="236.9" rx="1.08" ry="1.7" fill="#4589bd" stroke="#12304a" stroke-width="0.6"/>
<ellipse cx="434.5" cy="237.9" rx="1.08" ry="1.7" fill="#4589bd" stroke="#12304a" stroke-width="0.6"/>
<ellipse cx="430.3" cy="240.1" rx="1.08" ry="1.7" fill="#4589bd" stroke="#12304a" stroke-width="0.6"/>
<ellipse cx="439.7" cy="240.1" rx="1.08" ry="1.7" fill="#4589bd" stroke="#12304a" stroke-width="0.6"/>
<ellipse cx="442.9" cy="238.7" rx="1.08" ry="1.7" fill="#4589bd" stroke="#12304a" stroke-width="0.6"/>
<ellipse cx="429.6" cy="245.3" rx="1.08" ry="1.7" fill="#4589bd" stroke="#12304a" stroke-width="0.6"/>
<ellipse cx="426.1" cy="248.1" rx="1.08" ry="1.7" fill="#4589bd" stroke="#12304a" stroke-width="0.6"/>
<ellipse cx="433.1" cy="250.2" rx="1.08" ry="1.7" fill="#4589bd" stroke="#12304a" stroke-width="0.6"/>
<ellipse cx="434.5" cy="249.1" rx="1.08" ry="1.7" fill="#4589bd" stroke="#12304a" stroke-width="0.6"/>
<ellipse cx="441.5" cy="250.9" rx="1.08" ry="1.7" fill="#4589bd" stroke="#12304a" stroke-width="0.6"/>
<ellipse cx="427.5" cy="252.7" rx="1.08" ry="1.7" fill="#4589bd" stroke="#12304a" stroke-width="0.6"/>
<ellipse cx="428.2" cy="254.4" rx="1.08" ry="1.7" fill="#4589bd" stroke="#12304a" stroke-width="0.6"/>
<ellipse cx="430.7" cy="254.4" rx="1.08" ry="1.7" fill="#4589bd" stroke="#12304a" stroke-width="0.6"/>
<ellipse cx="437.3" cy="258.6" rx="1.08" ry="1.7" fill="#4589bd" stroke="#12304a" stroke-width="0.6"/>
<ellipse cx="431.7" cy="260.7" rx="1.08" ry="1.7" fill="#4589bd" stroke="#12304a" stroke-width="0.6"/>
<ellipse cx="435.9" cy="261.7" rx="1.08" ry="1.7" fill="#4589bd" stroke="#12304a" stroke-width="0.6"/>
<ellipse cx="436.6" cy="264.2" rx="1.08" ry="1.7" fill="#4589bd" stroke="#12304a" stroke-width="0.6"/>
<ellipse cx="426.1" cy="269.6" rx="1.08" ry="1.7" fill="#4589bd" stroke="#12304a" stroke-width="0.6"/>
<ellipse cx="430.3" cy="272.9" rx="1.08" ry="1.7" fill="#4589bd" stroke="#12304a" stroke-width="0.6"/>
<ellipse cx="490.2" cy="202.7" rx="1.08" ry="1.7" fill="#dc6675" stroke="#4e141b" stroke-width="0.6"/>
<ellipse cx="477.3" cy="208.3" rx="1.08" ry="1.7" fill="#dc6675" stroke="#4e141b" stroke-width="0.6"/>
<ellipse cx="482.9" cy="213.5" rx="1.08" ry="1.7" fill="#dc6675" stroke="#4e141b" stroke-width="0.6"/>
<ellipse cx="479.4" cy="216.0" rx="1.08" ry="1.7" fill="#dc6675" stroke="#4e141b" stroke-width="0.6"/>
<ellipse cx="473.8" cy="216.7" rx="1.08" ry="1.7" fill="#dc6675" stroke="#4e141b" stroke-width="0.6"/>
<ellipse cx="475.9" cy="221.6" rx="1.08" ry="1.7" fill="#dc6675" stroke="#4e141b" stroke-width="0.6"/>
<ellipse cx="486.4" cy="222.3" rx="1.08" ry="1.7" fill="#dc6675" stroke="#4e141b" stroke-width="0.6"/>
<ellipse cx="481.2" cy="225.8" rx="1.08" ry="1.7" fill="#dc6675" stroke="#4e141b" stroke-width="0.6"/>
<ellipse cx="489.2" cy="226.5" rx="1.08" ry="1.7" fill="#dc6675" stroke="#4e141b" stroke-width="0.6"/>
<ellipse cx="473.8" cy="229.3" rx="1.08" ry="1.7" fill="#dc6675" stroke="#4e141b" stroke-width="0.6"/>
<ellipse cx="475.6" cy="230.0" rx="1.08" ry="1.7" fill="#dc6675" stroke="#4e141b" stroke-width="0.6"/>
<ellipse cx="486.4" cy="230.0" rx="1.08" ry="1.7" fill="#dc6675" stroke="#4e141b" stroke-width="0.6"/>
<ellipse cx="487.8" cy="229.3" rx="1.08" ry="1.7" fill="#dc6675" stroke="#4e141b" stroke-width="0.6"/>
<ellipse cx="477.3" cy="232.6" rx="1.08" ry="1.7" fill="#dc6675" stroke="#4e141b" stroke-width="0.6"/>
<ellipse cx="480.8" cy="232.6" rx="1.08" ry="1.7" fill="#dc6675" stroke="#4e141b" stroke-width="0.6"/>
<ellipse cx="485.0" cy="234.2" rx="1.08" ry="1.7" fill="#dc6675" stroke="#4e141b" stroke-width="0.6"/>
<ellipse cx="475.9" cy="235.0" rx="1.08" ry="1.7" fill="#dc6675" stroke="#4e141b" stroke-width="0.6"/>
<ellipse cx="478.7" cy="234.2" rx="1.08" ry="1.7" fill="#dc6675" stroke="#4e141b" stroke-width="0.6"/>
<ellipse cx="475.2" cy="232.5" rx="1.08" ry="1.7" fill="#dc6675" stroke="#4e141b" stroke-width="0.6"/>
<ellipse cx="478.7" cy="233.4" rx="1.08" ry="1.7" fill="#dc6675" stroke="#4e141b" stroke-width="0.6"/>
<ellipse cx="482.2" cy="232.7" rx="1.08" ry="1.7" fill="#dc6675" stroke="#4e141b" stroke-width="0.6"/>
<ellipse cx="485.0" cy="234.8" rx="1.08" ry="1.7" fill="#dc6675" stroke="#4e141b" stroke-width="0.6"/>
<ellipse cx="477.6" cy="238.3" rx="1.08" ry="1.7" fill="#dc6675" stroke="#4e141b" stroke-width="0.6"/>
<ellipse cx="482.9" cy="239.7" rx="1.08" ry="1.7" fill="#dc6675" stroke="#4e141b" stroke-width="0.6"/>
<ellipse cx="486.4" cy="241.1" rx="1.08" ry="1.7" fill="#dc6675" stroke="#4e141b" stroke-width="0.6"/>
<ellipse cx="492.7" cy="238.3" rx="1.08" ry="1.7" fill="#dc6675" stroke="#4e141b" stroke-width="0.6"/>
<ellipse cx="492.0" cy="240.4" rx="1.08" ry="1.7" fill="#dc6675" stroke="#4e141b" stroke-width="0.6"/>
<ellipse cx="491.0" cy="243.2" rx="1.08" ry="1.7" fill="#dc6675" stroke="#4e141b" stroke-width="0.6"/>
<ellipse cx="482.6" cy="244.9" rx="1.08" ry="1.7" fill="#dc6675" stroke="#4e141b" stroke-width="0.6"/>
<ellipse cx="492.0" cy="246.7" rx="1.08" ry="1.7" fill="#dc6675" stroke="#4e141b" stroke-width="0.6"/>
<ellipse cx="475.9" cy="248.8" rx="1.08" ry="1.7" fill="#dc6675" stroke="#4e141b" stroke-width="0.6"/>
<ellipse cx="478.7" cy="249.1" rx="1.08" ry="1.7" fill="#dc6675" stroke="#4e141b" stroke-width="0.6"/>
<ellipse cx="492.7" cy="250.5" rx="1.08" ry="1.7" fill="#dc6675" stroke="#4e141b" stroke-width="0.6"/>
<ellipse cx="484.3" cy="254.7" rx="1.08" ry="1.7" fill="#dc6675" stroke="#4e141b" stroke-width="0.6"/>
<ellipse cx="480.4" cy="257.2" rx="1.08" ry="1.7" fill="#dc6675" stroke="#4e141b" stroke-width="0.6"/>
<ellipse cx="486.4" cy="260.0" rx="1.08" ry="1.7" fill="#dc6675" stroke="#4e141b" stroke-width="0.6"/>
<ellipse cx="474.5" cy="261.2" rx="1.08" ry="1.7" fill="#dc6675" stroke="#4e141b" stroke-width="0.6"/>
<ellipse cx="477.3" cy="262.1" rx="1.08" ry="1.7" fill="#dc6675" stroke="#4e141b" stroke-width="0.6"/>
<ellipse cx="480.1" cy="262.6" rx="1.08" ry="1.7" fill="#dc6675" stroke="#4e141b" stroke-width="0.6"/>
<ellipse cx="487.1" cy="262.1" rx="1.08" ry="1.7" fill="#dc6675" stroke="#4e141b" stroke-width="0.6"/>
<ellipse cx="478.7" cy="264.9" rx="1.08" ry="1.7" fill="#dc6675" stroke="#4e141b" stroke-width="0.6"/>
<ellipse cx="478.7" cy="269.6" rx="1.08" ry="1.7" fill="#dc6675" stroke="#4e141b" stroke-width="0.6"/>
<ellipse cx="489.9" cy="270.1" rx="1.08" ry="1.7" fill="#dc6675" stroke="#4e141b" stroke-width="0.6"/>
<ellipse cx="492.0" cy="269.8" rx="1.08" ry="1.7" fill="#dc6675" stroke="#4e141b" stroke-width="0.6"/>
<ellipse cx="473.8" cy="276.8" rx="1.08" ry="1.7" fill="#dc6675" stroke="#4e141b" stroke-width="0.6"/>
<ellipse cx="485.7" cy="276.6" rx="1.08" ry="1.7" fill="#dc6675" stroke="#4e141b" stroke-width="0.6"/>
<ellipse cx="473.8" cy="278.0" rx="1.08" ry="1.7" fill="#dc6675" stroke="#4e141b" stroke-width="0.6"/>
<ellipse cx="485.7" cy="279.1" rx="1.08" ry="1.7" fill="#dc6675" stroke="#4e141b" stroke-width="0.6"/>
<ellipse cx="477.3" cy="282.5" rx="1.08" ry="1.7" fill="#dc6675" stroke="#4e141b" stroke-width="0.6"/>
<ellipse cx="480.1" cy="283.9" rx="1.08" ry="1.7" fill="#dc6675" stroke="#4e141b" stroke-width="0.6"/>
<ellipse cx="486.4" cy="283.6" rx="1.08" ry="1.7" fill="#dc6675" stroke="#4e141b" stroke-width="0.6"/>
<ellipse cx="484.6" cy="289.9" rx="1.08" ry="1.7" fill="#dc6675" stroke="#4e141b" stroke-width="0.6"/>
<ellipse cx="474.2" cy="294.8" rx="1.08" ry="1.7" fill="#dc6675" stroke="#4e141b" stroke-width="0.6"/>
<ellipse cx="477.3" cy="308.1" rx="1.08" ry="1.7" fill="#dc6675" stroke="#4e141b" stroke-width="0.6"/>
<ellipse cx="480.8" cy="307.4" rx="1.08" ry="1.7" fill="#dc6675" stroke="#4e141b" stroke-width="0.6"/>
<ellipse cx="486.4" cy="307.7" rx="1.08" ry="1.7" fill="#dc6675" stroke="#4e141b" stroke-width="0.6"/>
<ellipse cx="476.6" cy="322.6" rx="1.08" ry="1.7" fill="#dc6675" stroke="#4e141b" stroke-width="0.6"/>
<path d="M433.1,198.1 L433.1,194.9 L481.8,194.9 L481.8,198.1" fill="none" stroke="#111" stroke-width="0.8"/>
<text transform="translate(456.50 194.30) scale(0.1)" font-size="66.0" text-anchor="middle" fill="#2a2a2a" stroke="#2a2a2a" stroke-width="0.60" textLength="442.0" lengthAdjust="spacingAndGlyphs">FDR corrected p &lt; .05*</text>
<text transform="translate(435.40 335.70) scale(0.1)" font-size="58.0" text-anchor="middle" fill="#6a6a6a" stroke="#6a6a6a" stroke-width="1.50" textLength="56.0" lengthAdjust="spacingAndGlyphs">TD</text>
<text transform="translate(483.90 335.70) scale(0.1)" font-size="58.0" text-anchor="middle" fill="#6a6a6a" stroke="#6a6a6a" stroke-width="1.50" textLength="62.0" lengthAdjust="spacingAndGlyphs">DD</text>
<text transform="translate(459.80 341.90) scale(0.1)" font-size="63.0" text-anchor="middle" fill="#505050" stroke="#505050" stroke-width="1.50" textLength="128.0" lengthAdjust="spacingAndGlyphs">Group</text>
<text transform="translate(399.50 251.10) rotate(-90) scale(0.1)" font-size="72.0" text-anchor="middle" fill="#333" stroke="#333" stroke-width="0.53" textLength="400.0" lengthAdjust="spacingAndGlyphs">Parietal&#160;&#160;Power</text>
<text transform="translate(394.10 190.90) scale(0.1)" font-size="94.0" text-anchor="start" fill="#222" font-weight="bold" textLength="91.0" lengthAdjust="spacingAndGlyphs">(f)</text>
<text transform="translate(402.70 207.10) scale(0.1)" font-size="60.0" text-anchor="middle" fill="#8a8a8a" stroke="#8a8a8a" stroke-width="1.50" textLength="25.0" lengthAdjust="spacingAndGlyphs">4</text>
<text transform="translate(402.70 244.10) scale(0.1)" font-size="60.0" text-anchor="middle" fill="#8a8a8a" stroke="#8a8a8a" stroke-width="1.50" textLength="25.0" lengthAdjust="spacingAndGlyphs">3</text>
<text transform="translate(402.70 279.80) scale(0.1)" font-size="60.0" text-anchor="middle" fill="#8a8a8a" stroke="#8a8a8a" stroke-width="1.50" textLength="25.0" lengthAdjust="spacingAndGlyphs">2</text>
<text transform="translate(402.70 314.80) scale(0.1)" font-size="60.0" text-anchor="middle" fill="#8a8a8a" stroke="#8a8a8a" stroke-width="1.50" textLength="25.0" lengthAdjust="spacingAndGlyphs">1</text>
<rect x="539.5" y="183.5" width="107.0" height="144.10000000000002" fill="none" stroke="#9a9a9a" stroke-width="0.9"/>
<line x1="568.5" y1="201.3" x2="568.5" y2="296.2" stroke="#5f5f5f" stroke-width="0.85"/>
<rect x="554.5" y="236.5" width="29.0" height="25.0" fill="#c6e8f6" stroke="#3a3a3a" stroke-width="0.9"/>
<line x1="554.5" y1="245" x2="583.5" y2="245" stroke="#111" stroke-width="1.8"/>
<line x1="617.5" y1="207.6" x2="617.5" y2="314.4" stroke="#5f5f5f" stroke-width="0.85"/>
<rect x="603.5" y="244.5" width="29.0" height="30.0" fill="#f9d0d8" stroke="#3a3a3a" stroke-width="0.9"/>
<line x1="603.5" y1="261" x2="632.5" y2="261" stroke="#111" stroke-width="1.8"/>
<ellipse cx="563.2" cy="200.9" rx="1.08" ry="1.7" fill="#4589bd" stroke="#12304a" stroke-width="0.6"/>
<ellipse cx="560.4" cy="212.5" rx="1.08" ry="1.7" fill="#4589bd" stroke="#12304a" stroke-width="0.6"/>
<ellipse cx="573.7" cy="213.9" rx="1.08" ry="1.7" fill="#4589bd" stroke="#12304a" stroke-width="0.6"/>
<ellipse cx="562.1" cy="223.7" rx="1.08" ry="1.7" fill="#4589bd" stroke="#12304a" stroke-width="0.6"/>
<ellipse cx="566.0" cy="230.0" rx="1.08" ry="1.7" fill="#4589bd" stroke="#12304a" stroke-width="0.6"/>
<ellipse cx="570.5" cy="230.3" rx="1.08" ry="1.7" fill="#4589bd" stroke="#12304a" stroke-width="0.6"/>
<ellipse cx="561.1" cy="232.1" rx="1.08" ry="1.7" fill="#4589bd" stroke="#12304a" stroke-width="0.6"/>
<ellipse cx="569.5" cy="232.8" rx="1.08" ry="1.7" fill="#4589bd" stroke="#12304a" stroke-width="0.6"/>
<ellipse cx="560.4" cy="234.2" rx="1.08" ry="1.7" fill="#4589bd" stroke="#12304a" stroke-width="0.6"/>
<ellipse cx="576.5" cy="235.7" rx="1.08" ry="1.7" fill="#4589bd" stroke="#12304a" stroke-width="0.6"/>
<ellipse cx="560.7" cy="233.4" rx="1.08" ry="1.7" fill="#4589bd" stroke="#12304a" stroke-width="0.6"/>
<ellipse cx="569.5" cy="233.1" rx="1.08" ry="1.7" fill="#4589bd" stroke="#12304a" stroke-width="0.6"/>
<ellipse cx="560.7" cy="238.3" rx="1.08" ry="1.7" fill="#4589bd" stroke="#12304a" stroke-width="0.6"/>
<ellipse cx="568.8" cy="238.3" rx="1.08" ry="1.7" fill="#4589bd" stroke="#12304a" stroke-width="0.6"/>
<ellipse cx="570.2" cy="239.0" rx="1.08" ry="1.7" fill="#4589bd" stroke="#12304a" stroke-width="0.6"/>
<ellipse cx="577.0" cy="237.3" rx="1.08" ry="1.7" fill="#4589bd" stroke="#12304a" stroke-width="0.6"/>
<ellipse cx="577.9" cy="239.3" rx="1.08" ry="1.7" fill="#4589bd" stroke="#12304a" stroke-width="0.6"/>
<ellipse cx="562.5" cy="242.9" rx="1.08" ry="1.7" fill="#4589bd" stroke="#12304a" stroke-width="0.6"/>
<ellipse cx="559.3" cy="245.7" rx="1.08" ry="1.7" fill="#4589bd" stroke="#12304a" stroke-width="0.6"/>
<ellipse cx="563.2" cy="246.0" rx="1.08" ry="1.7" fill="#4589bd" stroke="#12304a" stroke-width="0.6"/>
<ellipse cx="570.0" cy="243.9" rx="1.08" ry="1.7" fill="#4589bd" stroke="#12304a" stroke-width="0.6"/>
<ellipse cx="572.8" cy="245.3" rx="1.08" ry="1.7" fill="#4589bd" stroke="#12304a" stroke-width="0.6"/>
<ellipse cx="561.5" cy="248.5" rx="1.08" ry="1.7" fill="#4589bd" stroke="#12304a" stroke-width="0.6"/>
<ellipse cx="572.3" cy="252.7" rx="1.08" ry="1.7" fill="#4589bd" stroke="#12304a" stroke-width="0.6"/>
<ellipse cx="576.5" cy="252.3" rx="1.08" ry="1.7" fill="#4589bd" stroke="#12304a" stroke-width="0.6"/>
<ellipse cx="564.6" cy="257.9" rx="1.08" ry="1.7" fill="#4589bd" stroke="#12304a" stroke-width="0.6"/>
<ellipse cx="566.0" cy="259.3" rx="1.08" ry="1.7" fill="#4589bd" stroke="#12304a" stroke-width="0.6"/>
<ellipse cx="567.1" cy="260.7" rx="1.08" ry="1.7" fill="#4589bd" stroke="#12304a" stroke-width="0.6"/>
<ellipse cx="575.8" cy="257.2" rx="1.08" ry="1.7" fill="#4589bd" stroke="#12304a" stroke-width="0.6"/>
<ellipse cx="575.1" cy="260.7" rx="1.08" ry="1.7" fill="#4589bd" stroke="#12304a" stroke-width="0.6"/>
<ellipse cx="568.5" cy="264.0" rx="1.08" ry="1.7" fill="#4589bd" stroke="#12304a" stroke-width="0.6"/>
<ellipse cx="573.7" cy="263.1" rx="1.08" ry="1.7" fill="#4589bd" stroke="#12304a" stroke-width="0.6"/>
<ellipse cx="565.7" cy="272.9" rx="1.08" ry="1.7" fill="#4589bd" stroke="#12304a" stroke-width="0.6"/>
<ellipse cx="566.7" cy="277.5" rx="1.08" ry="1.7" fill="#4589bd" stroke="#12304a" stroke-width="0.6"/>
<ellipse cx="566.0" cy="279.4" rx="1.08" ry="1.7" fill="#4589bd" stroke="#12304a" stroke-width="0.6"/>
<ellipse cx="560.4" cy="282.9" rx="1.08" ry="1.7" fill="#4589bd" stroke="#12304a" stroke-width="0.6"/>
<ellipse cx="574.4" cy="285.7" rx="1.08" ry="1.7" fill="#4589bd" stroke="#12304a" stroke-width="0.6"/>
<ellipse cx="578.4" cy="289.9" rx="1.08" ry="1.7" fill="#4589bd" stroke="#12304a" stroke-width="0.6"/>
<ellipse cx="564.9" cy="296.5" rx="1.08" ry="1.7" fill="#4589bd" stroke="#12304a" stroke-width="0.6"/>
<ellipse cx="618.6" cy="206.2" rx="1.08" ry="1.7" fill="#dc6675" stroke="#4e141b" stroke-width="0.6"/>
<ellipse cx="623.8" cy="212.1" rx="1.08" ry="1.7" fill="#dc6675" stroke="#4e141b" stroke-width="0.6"/>
<ellipse cx="610.2" cy="219.5" rx="1.08" ry="1.7" fill="#dc6675" stroke="#4e141b" stroke-width="0.6"/>
<ellipse cx="621.0" cy="220.9" rx="1.08" ry="1.7" fill="#dc6675" stroke="#4e141b" stroke-width="0.6"/>
<ellipse cx="618.2" cy="226.5" rx="1.08" ry="1.7" fill="#dc6675" stroke="#4e141b" stroke-width="0.6"/>
<ellipse cx="622.1" cy="228.0" rx="1.08" ry="1.7" fill="#dc6675" stroke="#4e141b" stroke-width="0.6"/>
<ellipse cx="624.6" cy="226.1" rx="1.08" ry="1.7" fill="#dc6675" stroke="#4e141b" stroke-width="0.6"/>
<ellipse cx="613.0" cy="229.8" rx="1.08" ry="1.7" fill="#dc6675" stroke="#4e141b" stroke-width="0.6"/>
<ellipse cx="622.4" cy="234.2" rx="1.08" ry="1.7" fill="#dc6675" stroke="#4e141b" stroke-width="0.6"/>
<ellipse cx="622.4" cy="235.1" rx="1.08" ry="1.7" fill="#dc6675" stroke="#4e141b" stroke-width="0.6"/>
<ellipse cx="625.6" cy="238.7" rx="1.08" ry="1.7" fill="#dc6675" stroke="#4e141b" stroke-width="0.6"/>
<ellipse cx="626.0" cy="240.7" rx="1.08" ry="1.7" fill="#dc6675" stroke="#4e141b" stroke-width="0.6"/>
<ellipse cx="610.6" cy="244.6" rx="1.08" ry="1.7" fill="#dc6675" stroke="#4e141b" stroke-width="0.6"/>
<ellipse cx="612.3" cy="246.0" rx="1.08" ry="1.7" fill="#dc6675" stroke="#4e141b" stroke-width="0.6"/>
<ellipse cx="617.6" cy="242.1" rx="1.08" ry="1.7" fill="#dc6675" stroke="#4e141b" stroke-width="0.6"/>
<ellipse cx="620.0" cy="243.9" rx="1.08" ry="1.7" fill="#dc6675" stroke="#4e141b" stroke-width="0.6"/>
<ellipse cx="615.1" cy="247.4" rx="1.08" ry="1.7" fill="#dc6675" stroke="#4e141b" stroke-width="0.6"/>
<ellipse cx="617.9" cy="248.5" rx="1.08" ry="1.7" fill="#dc6675" stroke="#4e141b" stroke-width="0.6"/>
<ellipse cx="620.7" cy="249.1" rx="1.08" ry="1.7" fill="#dc6675" stroke="#4e141b" stroke-width="0.6"/>
<ellipse cx="608.8" cy="253.0" rx="1.08" ry="1.7" fill="#dc6675" stroke="#4e141b" stroke-width="0.6"/>
<ellipse cx="613.7" cy="252.7" rx="1.08" ry="1.7" fill="#dc6675" stroke="#4e141b" stroke-width="0.6"/>
<ellipse cx="616.5" cy="255.1" rx="1.08" ry="1.7" fill="#dc6675" stroke="#4e141b" stroke-width="0.6"/>
<ellipse cx="619.3" cy="255.1" rx="1.08" ry="1.7" fill="#dc6675" stroke="#4e141b" stroke-width="0.6"/>
<ellipse cx="622.8" cy="254.4" rx="1.08" ry="1.7" fill="#dc6675" stroke="#4e141b" stroke-width="0.6"/>
<ellipse cx="627.7" cy="253.0" rx="1.08" ry="1.7" fill="#dc6675" stroke="#4e141b" stroke-width="0.6"/>
<ellipse cx="611.2" cy="257.2" rx="1.08" ry="1.7" fill="#dc6675" stroke="#4e141b" stroke-width="0.6"/>
<ellipse cx="620.0" cy="257.2" rx="1.08" ry="1.7" fill="#dc6675" stroke="#4e141b" stroke-width="0.6"/>
<ellipse cx="608.8" cy="261.4" rx="1.08" ry="1.7" fill="#dc6675" stroke="#4e141b" stroke-width="0.6"/>
<ellipse cx="615.1" cy="262.1" rx="1.08" ry="1.7" fill="#dc6675" stroke="#4e141b" stroke-width="0.6"/>
<ellipse cx="621.4" cy="262.8" rx="1.08" ry="1.7" fill="#dc6675" stroke="#4e141b" stroke-width="0.6"/>
<ellipse cx="624.9" cy="264.0" rx="1.08" ry="1.7" fill="#dc6675" stroke="#4e141b" stroke-width="0.6"/>
<ellipse cx="608.8" cy="265.4" rx="1.08" ry="1.7" fill="#dc6675" stroke="#4e141b" stroke-width="0.6"/>
<ellipse cx="618.6" cy="265.4" rx="1.08" ry="1.7" fill="#dc6675" stroke="#4e141b" stroke-width="0.6"/>
<ellipse cx="616.8" cy="267.7" rx="1.08" ry="1.7" fill="#dc6675" stroke="#4e141b" stroke-width="0.6"/>
<ellipse cx="618.2" cy="267.0" rx="1.08" ry="1.7" fill="#dc6675" stroke="#4e141b" stroke-width="0.6"/>
<ellipse cx="617.2" cy="268.7" rx="1.08" ry="1.7" fill="#dc6675" stroke="#4e141b" stroke-width="0.6"/>
<ellipse cx="627.0" cy="270.5" rx="1.08" ry="1.7" fill="#dc6675" stroke="#4e141b" stroke-width="0.6"/>
<ellipse cx="618.6" cy="273.3" rx="1.08" ry="1.7" fill="#dc6675" stroke="#4e141b" stroke-width="0.6"/>
<ellipse cx="625.6" cy="272.9" rx="1.08" ry="1.7" fill="#dc6675" stroke="#4e141b" stroke-width="0.6"/>
<ellipse cx="608.8" cy="275.7" rx="1.08" ry="1.7" fill="#dc6675" stroke="#4e141b" stroke-width="0.6"/>
<ellipse cx="620.7" cy="275.7" rx="1.08" ry="1.7" fill="#dc6675" stroke="#4e141b" stroke-width="0.6"/>
<ellipse cx="625.6" cy="277.5" rx="1.08" ry="1.7" fill="#dc6675" stroke="#4e141b" stroke-width="0.6"/>
<ellipse cx="620.4" cy="280.8" rx="1.08" ry="1.7" fill="#dc6675" stroke="#4e141b" stroke-width="0.6"/>
<ellipse cx="625.6" cy="278.0" rx="1.08" ry="1.7" fill="#dc6675" stroke="#4e141b" stroke-width="0.6"/>
<ellipse cx="617.2" cy="283.3" rx="1.08" ry="1.7" fill="#dc6675" stroke="#4e141b" stroke-width="0.6"/>
<ellipse cx="624.6" cy="285.3" rx="1.08" ry="1.7" fill="#dc6675" stroke="#4e141b" stroke-width="0.6"/>
<ellipse cx="611.2" cy="286.7" rx="1.08" ry="1.7" fill="#dc6675" stroke="#4e141b" stroke-width="0.6"/>
<ellipse cx="608.3" cy="289.2" rx="1.08" ry="1.7" fill="#dc6675" stroke="#4e141b" stroke-width="0.6"/>
<ellipse cx="624.2" cy="296.5" rx="1.08" ry="1.7" fill="#dc6675" stroke="#4e141b" stroke-width="0.6"/>
<ellipse cx="622.4" cy="298.7" rx="1.08" ry="1.7" fill="#dc6675" stroke="#4e141b" stroke-width="0.6"/>
<ellipse cx="620.7" cy="300.1" rx="1.08" ry="1.7" fill="#dc6675" stroke="#4e141b" stroke-width="0.6"/>
<ellipse cx="613.7" cy="308.6" rx="1.08" ry="1.7" fill="#dc6675" stroke="#4e141b" stroke-width="0.6"/>
<ellipse cx="617.2" cy="314.7" rx="1.08" ry="1.7" fill="#dc6675" stroke="#4e141b" stroke-width="0.6"/>
<ellipse cx="614.8" cy="321.2" rx="1.08" ry="1.7" fill="#dc6675" stroke="#4e141b" stroke-width="0.6"/>
<path d="M568.5,198.7 L568.5,195.29999999999998 L617.2,195.29999999999998 L617.2,198.7" fill="none" stroke="#111" stroke-width="0.8"/>
<text transform="translate(591.90 194.70) scale(0.1)" font-size="66.0" text-anchor="middle" fill="#2a2a2a" stroke="#2a2a2a" stroke-width="0.60" textLength="442.0" lengthAdjust="spacingAndGlyphs">FDR corrected p &lt; .05*</text>
<text transform="translate(567.10 335.70) scale(0.1)" font-size="58.0" text-anchor="middle" fill="#6a6a6a" stroke="#6a6a6a" stroke-width="1.50" textLength="56.0" lengthAdjust="spacingAndGlyphs">TD</text>
<text transform="translate(615.80 335.70) scale(0.1)" font-size="58.0" text-anchor="middle" fill="#6a6a6a" stroke="#6a6a6a" stroke-width="1.50" textLength="62.0" lengthAdjust="spacingAndGlyphs">DD</text>
<text transform="translate(591.20 341.90) scale(0.1)" font-size="63.0" text-anchor="middle" fill="#505050" stroke="#505050" stroke-width="1.50" textLength="128.0" lengthAdjust="spacingAndGlyphs">Group</text>
<text transform="translate(532.50 247.60) rotate(-90) scale(0.1)" font-size="72.0" text-anchor="middle" fill="#333" stroke="#333" stroke-width="0.53" textLength="435.0" lengthAdjust="spacingAndGlyphs">Occipital&#160;&#160;Power</text>
<text transform="translate(523.40 190.90) scale(0.1)" font-size="94.0" text-anchor="start" fill="#222" font-weight="bold" textLength="117.0" lengthAdjust="spacingAndGlyphs">(g)</text>
<text transform="translate(537.00 203.50) scale(0.1)" font-size="60.0" text-anchor="middle" fill="#8a8a8a" stroke="#8a8a8a" stroke-width="1.50" textLength="25.0" lengthAdjust="spacingAndGlyphs">5</text>
<text transform="translate(537.00 234.60) scale(0.1)" font-size="60.0" text-anchor="middle" fill="#8a8a8a" stroke="#8a8a8a" stroke-width="1.50" textLength="25.0" lengthAdjust="spacingAndGlyphs">4</text>
<text transform="translate(537.00 266.70) scale(0.1)" font-size="60.0" text-anchor="middle" fill="#8a8a8a" stroke="#8a8a8a" stroke-width="1.50" textLength="25.0" lengthAdjust="spacingAndGlyphs">3</text>
<text transform="translate(537.00 297.90) scale(0.1)" font-size="60.0" text-anchor="middle" fill="#8a8a8a" stroke="#8a8a8a" stroke-width="1.50" textLength="25.0" lengthAdjust="spacingAndGlyphs">2</text>
<text transform="translate(537.00 329.10) scale(0.1)" font-size="60.0" text-anchor="middle" fill="#8a8a8a" stroke="#8a8a8a" stroke-width="1.50" textLength="25.0" lengthAdjust="spacingAndGlyphs">1</text>
<rect x="658.4" y="60.0" width="7.9" height="7.6" fill="#7fcdee" stroke="#666" stroke-width="0.6"/>
<rect x="658.4" y="69.8" width="7.9" height="7.6" fill="#f28b9d" stroke="#666" stroke-width="0.6"/>
<text transform="translate(669.40 66.80) scale(0.1)" font-size="78.0" text-anchor="start" fill="#111" stroke="#111" stroke-width="1.50" textLength="143.0" lengthAdjust="spacingAndGlyphs">TD</text>
<text transform="translate(669.40 76.80) scale(0.1)" font-size="78.0" text-anchor="start" fill="#111" stroke="#111" stroke-width="1.50" textLength="153.0" lengthAdjust="spacingAndGlyphs">DD</text>
<text transform="translate(657.70 244.40) scale(0.1)" font-size="84.0" text-anchor="start" fill="#333" stroke="#333" stroke-width="0.53" textLength="249.0" lengthAdjust="spacingAndGlyphs">Group</text>
<line x1="662.2" y1="249.3" x2="662.2" y2="255.9" stroke="#222" stroke-width="0.9"/>
<rect x="658.4" y="250.70000000000002" width="7.4" height="3.8" fill="#a8d4e6" stroke="#222" stroke-width="0.8"/>
<line x1="658.4" y1="252.60000000000002" x2="665.8" y2="252.60000000000002" stroke="#222" stroke-width="0.8"/>
<line x1="662.2" y1="258.9" x2="662.2" y2="265.5" stroke="#222" stroke-width="0.9"/>
<rect x="658.4" y="260.29999999999995" width="7.4" height="3.8" fill="#e7b7c0" stroke="#222" stroke-width="0.8"/>
<line x1="658.4" y1="262.2" x2="665.8" y2="262.2" stroke="#222" stroke-width="0.8"/>
<text transform="translate(670.80 255.70) scale(0.1)" font-size="76.0" text-anchor="start" fill="#111" stroke="#111" stroke-width="1.00" textLength="113.0" lengthAdjust="spacingAndGlyphs">TD</text>
<text transform="translate(670.80 265.10) scale(0.1)" font-size="76.0" text-anchor="start" fill="#111" stroke="#111" stroke-width="1.00" textLength="122.0" lengthAdjust="spacingAndGlyphs">DD</text>
</g>
</svg>
</body></html>
